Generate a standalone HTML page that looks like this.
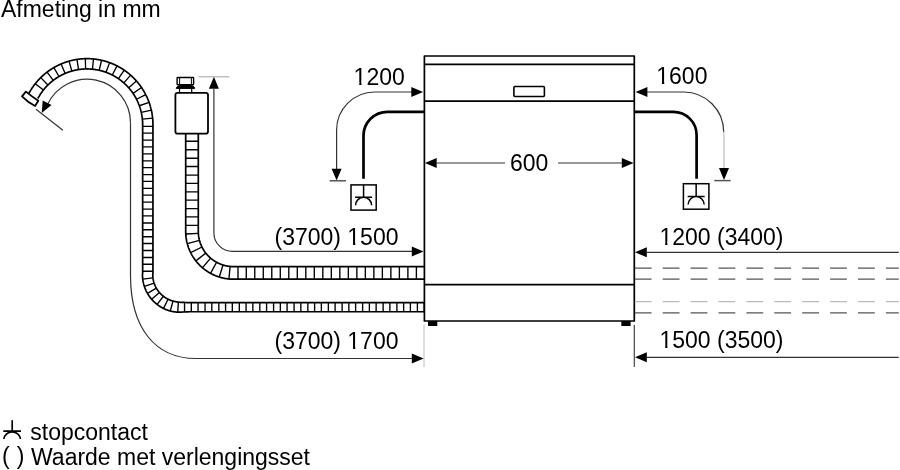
<!DOCTYPE html><html><head><meta charset="utf-8"><style>html,body{margin:0;padding:0;background:#fff;width:900px;height:470px;overflow:hidden}svg{display:block;will-change:transform}text{font-family:"Liberation Sans",sans-serif;font-size:23px;fill:#000}</style></head><body>
<svg width="900" height="470" viewBox="0 0 900 470">
<text transform="translate(1 17.2) scale(1 1.04)" xml:space="preserve">Afmeting in mm</text>
<path d="M424.4,321 V56 H634.3 V321 Z" fill="none" stroke="#000" stroke-width="1.7" stroke-linejoin="round"/>
<path d="M424.4,64.3 H634.3 M424.4,101.1 H634.3 M424.4,284.7 H634.3" fill="none" stroke="#000" stroke-width="1.7"/>
<rect x="428" y="321" width="9.3" height="5" fill="#000"/>
<rect x="621.3" y="321" width="9.3" height="5" fill="#000"/>
<rect x="513.9" y="86.5" width="30.5" height="10" rx="1" fill="none" stroke="#000" stroke-width="1.6"/>
<path d="M437,163 H505 M558,163 H622" stroke="#333" stroke-width="1.2" fill="none"/>
<path d="M424.90,163.00 L436.70,158.00 L436.70,168.00 Z" fill="#000"/>
<path d="M633.60,163.00 L621.80,168.00 L621.80,158.00 Z" fill="#000"/>
<text transform="translate(510 171) scale(1 1.04)" xml:space="preserve">600</text>
<path d="M336.6,172 V130.1 A38.1,38.1 0 0 1 374.7,92 H412" stroke="#333" stroke-width="1.2" fill="none"/>
<path d="M423.10,92.00 L411.30,97.00 L411.30,87.00 Z" fill="#000"/>
<path d="M336.60,180.50 L331.60,168.70 L341.60,168.70 Z" fill="#000"/>
<path d="M329.6,180.8 H346" stroke="#555" stroke-width="1.5"/>
<text transform="translate(353.6 84.7) scale(1 1.04)" xml:space="preserve">1200</text>
<path d="M363.5,178.8 V135.8 A24,24 0 0 1 387.5,111.8 H424.4" stroke="#000" stroke-width="2.7" fill="none"/>
<rect x="351" y="184.9" width="25.20" height="25.20" fill="none" stroke="#000" stroke-width="1.5"/>
<path d="M363.60,184.9 V197.3 M355.10,197.3 H372.10 M355.60,205.3 A8,8 0 0 1 371.60,205.3" stroke="#000" stroke-width="1.5" fill="none"/>
<path d="M647,92 H683.7 A40,40 0 0 1 723.7,132" stroke="#333" stroke-width="1.2" fill="none"/>
<path d="M723.7,131.5 Q724,134 724,138 V172" stroke="#b0b0b0" stroke-width="1" fill="none"/>
<path d="M635.60,92.00 L647.40,87.00 L647.40,97.00 Z" fill="#000"/>
<path d="M724.00,179.90 L719.00,168.10 L729.00,168.10 Z" fill="#000"/>
<path d="M714.3,180.6 H730.6" stroke="#555" stroke-width="1.5"/>
<text transform="translate(656.3 83.7) scale(1 1.04)" xml:space="preserve">1600</text>
<path d="M634.3,111.8 H673.3 A23.3,23.3 0 0 1 696.6,135.1 V178.8" stroke="#000" stroke-width="2.7" fill="none"/>
<rect x="683.4" y="183.7" width="25.50" height="25.50" fill="none" stroke="#000" stroke-width="1.5"/>
<path d="M696.15,183.7 V196.5 M687.65,196.5 H704.65 M688.15,204.6 A8,8 0 0 1 704.15,204.6" stroke="#000" stroke-width="1.5" fill="none"/>
<path d="M647,252.4 H898.8" stroke="#333" stroke-width="1.2" fill="none"/>
<path d="M635.00,252.30 L646.80,247.30 L646.80,257.30 Z" fill="#000"/>
<text transform="translate(659.5 244.5) scale(1 1.04)" xml:space="preserve">1200 (3400)</text>
<path d="M647,357.4 H898.8" stroke="#333" stroke-width="1.2" fill="none"/>
<path d="M635.00,357.30 L646.80,352.30 L646.80,362.30 Z" fill="#000"/>
<text transform="translate(659.5 348.3) scale(1 1.04)" xml:space="preserve">1500 (3500)</text>
<path d="M634.8,268.2 H898.8" stroke="#555" stroke-width="1.3" stroke-dasharray="16.8 11.1" fill="none"/>
<path d="M634.8,279.2 H898.8" stroke="#555" stroke-width="1.3" stroke-dasharray="16.8 11.1" fill="none"/>
<path d="M634.8,301.6 H898.8" stroke="#bbb" stroke-width="1.3" stroke-dasharray="16.8 11.1" fill="none"/>
<path d="M634.8,312.8 H898.8" stroke="#555" stroke-width="1.3" stroke-dasharray="16.8 11.1" fill="none"/>
<path d="M424,324.5 V367" stroke="#c8c8c8" stroke-width="1.2"/>
<path d="M634.3,325 V367" stroke="#444" stroke-width="1.2"/>
<path d="M213.9,89 V232.7 A18.5,18.5 0 0 0 232.4,251.4 H412" stroke="#333" stroke-width="1.2" fill="none"/>
<path d="M423.60,251.40 L411.80,256.40 L411.80,246.40 Z" fill="#000"/>
<path d="M213.90,76.80 L218.90,88.80 L208.90,88.80 Z" fill="#000"/>
<path d="M198.4,76.8 H229.3" stroke="#aaa" stroke-width="1.1"/>
<text transform="translate(274.5 245) scale(1 1.04)" xml:space="preserve">(3700) 1500</text>
<path d="M130.5,122.7 V276 C130.8,328 155,358.5 196,358.5 H412" stroke="#333" stroke-width="1.2" fill="none"/>
<path d="M423.60,358.40 L411.80,363.40 L411.80,353.40 Z" fill="#000"/>
<text transform="translate(274.5 349) scale(1 1.04)" xml:space="preserve">(3700) 1700</text>
<path d="M47.26,105.01 A43.5,43.5 0 0 1 130.5,122.7" stroke="#333" stroke-width="1.2" fill="none"/>
<path d="M41.72,112.93 L42.70,100.43 L51.53,105.12 Z" fill="#000"/>
<path d="M36,109.2 L62.9,130.2" stroke="#333" stroke-width="1.2"/>
<path d="M37.86,98.47 L37.97,98.27 L38.08,98.07 L38.19,97.87 L38.30,97.67 L38.41,97.47 L38.52,97.27 L38.64,97.07 L38.75,96.87 L38.86,96.67 L38.98,96.48 L39.10,96.28 L39.21,96.08 L39.33,95.89 L39.45,95.69 L39.57,95.49 L39.69,95.30 L39.81,95.10 L39.93,94.91 L40.05,94.72 L40.18,94.52 L40.30,94.33 L40.43,94.14 L40.55,93.95 L40.68,93.76 L40.81,93.57 L40.93,93.38 L41.06,93.19 L41.19,93.00 L41.32,92.81 L41.45,92.62 L41.58,92.44 L41.72,92.25 L41.85,92.07 L41.99,91.88 L42.12,91.70 L42.26,91.51 L42.39,91.33 L42.53,91.14 L42.67,90.96 L42.81,90.78 L42.95,90.60 L43.09,90.42 L43.23,90.24 L43.37,90.06 L43.51,89.88 L43.65,89.70 L43.80,89.52 L43.94,89.34 L44.09,89.17 L44.23,88.99 L44.38,88.82 L44.53,88.64 L44.68,88.47 L44.83,88.29 L44.98,88.12 L45.13,87.95 L45.28,87.77 L45.43,87.60 L45.58,87.43 L45.73,87.26 L45.89,87.09 L46.04,86.92 L46.20,86.76 L46.35,86.59 L46.51,86.42 L46.67,86.26 L46.83,86.09 L46.99,85.92 L47.14,85.76 L47.30,85.60 L47.47,85.43 L47.63,85.27 L47.79,85.11 L47.95,84.95 L48.12,84.79 L48.28,84.63 L48.44,84.47 L48.61,84.31 L48.78,84.15 L48.94,84.00 L49.11,83.84 L49.28,83.69 L49.45,83.53 L49.62,83.38 L49.79,83.22 L49.96,83.07 L50.13,82.92 L50.30,82.77 L50.47,82.62 L50.64,82.47 L50.82,82.32 L50.99,82.17 L51.17,82.02 L51.34,81.87 L51.52,81.73 L51.69,81.58 L51.87,81.44 L52.05,81.29 L52.23,81.15 L52.41,81.01 L52.59,80.87 L52.77,80.72 L52.95,80.58 L53.13,80.44 L53.31,80.31 L53.49,80.17 L53.68,80.03 L53.86,79.89 L54.04,79.76 L54.23,79.62 L54.41,79.49 L54.60,79.35 L54.79,79.22 L54.97,79.09 L55.16,78.96 L55.35,78.83 L55.54,78.70 L55.73,78.57 L55.92,78.44 L56.11,78.31 L56.30,78.19 L56.49,78.06 L56.68,77.94 L56.87,77.81 L57.06,77.69 L57.26,77.56 L57.45,77.44 L57.65,77.32 L57.84,77.20 L58.04,77.08 L58.23,76.96 L58.43,76.85 L58.62,76.73 L58.82,76.61 L59.02,76.50 L59.22,76.38 L59.42,76.27 L59.61,76.15 L59.81,76.04 L60.01,75.93 L60.21,75.82 L60.42,75.71 L60.62,75.60 L60.82,75.49 L61.02,75.39 L61.22,75.28 L61.43,75.17 L61.63,75.07 L61.83,74.97 L62.04,74.86 L62.24,74.76 L62.45,74.66 L62.65,74.56 L62.86,74.46 L63.07,74.36 L63.27,74.26 L63.48,74.16 L63.69,74.07 L63.90,73.97 L64.10,73.88 L64.31,73.78 L64.52,73.69 L64.73,73.60 L64.94,73.51 L65.15,73.42 L65.36,73.33 L65.57,73.24 L65.79,73.15 L66.00,73.07 L66.21,72.98 L66.42,72.89 L66.63,72.81 L66.85,72.73 L67.06,72.64 L67.27,72.56 L67.49,72.48 L67.70,72.40 L67.92,72.32 L68.13,72.25 L68.35,72.17 L68.56,72.09 L68.78,72.02 L69.00,71.94 L69.21,71.87 L69.43,71.80 L69.65,71.72 L69.87,71.65 L70.08,71.58 L70.30,71.51 L70.52,71.45 L70.74,71.38 L70.96,71.31 L71.18,71.25 L71.40,71.18 L71.62,71.12 L71.84,71.06 L72.06,70.99 L72.28,70.93 L72.50,70.87 L72.72,70.81 L72.94,70.75 L73.16,70.70 L73.39,70.64 L73.61,70.59 L73.83,70.53 L74.05,70.48 L74.27,70.42 L74.50,70.37 L74.72,70.32 L74.94,70.27 L75.17,70.22 L75.39,70.17 L75.62,70.13 L75.84,70.08 L76.06,70.04 L76.29,69.99 L76.51,69.95 L76.74,69.90 L76.96,69.86 L77.19,69.82 L77.41,69.78 L77.64,69.74 L77.86,69.70 L78.09,69.67 L78.32,69.63 L78.54,69.60 L78.77,69.56 L79.00,69.53 L79.22,69.50 L79.45,69.46 L79.68,69.43 L79.90,69.40 L80.13,69.38 L80.36,69.35 L80.58,69.32 L80.81,69.30 L81.04,69.27 L81.27,69.25 L81.49,69.22 L81.72,69.20 L81.95,69.18 L82.18,69.16 L82.41,69.14 L82.63,69.12 L82.86,69.10 L83.09,69.09 L83.32,69.07 L83.55,69.06 L83.78,69.04 L84.00,69.03 L84.23,69.02 L84.46,69.01 L84.69,69.00 L84.92,68.99 L85.15,68.98 L85.38,68.97 L85.61,68.97 L85.83,68.96 L86.06,68.96 L86.29,68.95 L86.52,68.95 L86.75,68.95 L86.98,68.95 L87.21,68.95 L87.44,68.95 L87.67,68.95 L87.89,68.96 L88.12,68.96 L88.35,68.97 L88.58,68.97 L88.81,68.98 L89.04,68.99 L89.27,69.00 L89.50,69.01 L89.72,69.02 L89.95,69.03 L90.18,69.04 L90.41,69.05 L90.64,69.07 L90.87,69.08 L91.10,69.10 L91.32,69.12 L91.55,69.14 L91.78,69.16 L92.01,69.18 L92.24,69.20 L92.46,69.22 L92.69,69.24 L92.92,69.27 L93.15,69.29 L93.37,69.32 L93.60,69.34 L93.83,69.37 L94.06,69.40 L94.28,69.43 L94.51,69.46 L94.74,69.49 L94.96,69.52 L95.19,69.56 L95.42,69.59 L95.64,69.63 L95.87,69.66 L96.09,69.70 L96.32,69.74 L96.54,69.77 L96.77,69.81 L97.00,69.86 L97.22,69.90 L97.45,69.94 L97.67,69.98 L97.89,70.03 L98.12,70.07 L98.34,70.12 L98.57,70.17 L98.79,70.21 L99.01,70.26 L99.24,70.31 L99.46,70.36 L99.68,70.41 L99.91,70.47 L100.13,70.52 L100.35,70.58 L100.57,70.63 L100.80,70.69 L101.02,70.74 L101.24,70.80 L101.46,70.86 L101.68,70.92 L101.90,70.98 L102.12,71.04 L102.34,71.11 L102.56,71.17 L102.78,71.23 L103.00,71.30 L103.22,71.37 L103.44,71.43 L103.66,71.50 L103.88,71.57 L104.09,71.64 L104.31,71.71 L104.53,71.78 L104.75,71.86 L104.96,71.93 L105.18,72.00 L105.40,72.08 L105.61,72.15 L105.83,72.23 L106.04,72.31 L106.26,72.39 L106.47,72.47 L106.69,72.55 L106.90,72.63 L107.11,72.71 L107.33,72.79 L107.54,72.88 L107.75,72.96 L107.96,73.05 L108.18,73.14 L108.39,73.22 L108.60,73.31 L108.81,73.40 L109.02,73.49 L109.23,73.58 L109.44,73.67 L109.65,73.77 L109.86,73.86 L110.07,73.96 L110.27,74.05 L110.48,74.15 L110.69,74.24 L110.90,74.34 L111.10,74.44 L111.31,74.54 L111.51,74.64 L111.72,74.74 L111.92,74.84 L112.13,74.95 L112.33,75.05 L112.54,75.16 L112.74,75.26 L112.94,75.37 L113.14,75.47 L113.35,75.58 L113.55,75.69 L113.75,75.80 L113.95,75.91 L114.15,76.02 L114.35,76.13 L114.55,76.25 L114.75,76.36 L114.94,76.48 L115.14,76.59 L115.34,76.71 L115.54,76.82 L115.73,76.94 L115.93,77.06 L116.12,77.18 L116.32,77.30 L116.51,77.42 L116.71,77.54 L116.90,77.66 L117.09,77.79 L117.29,77.91 L117.48,78.04 L117.67,78.16 L117.86,78.29 L118.05,78.42 L118.24,78.55 L118.43,78.67 L118.62,78.80 L118.80,78.93 L118.99,79.07 L119.18,79.20 L119.37,79.33 L119.55,79.46 L119.74,79.60 L119.92,79.73 L120.11,79.87 L120.29,80.01 L120.47,80.14 L120.66,80.28 L120.84,80.42 L121.02,80.56 L121.20,80.70 L121.38,80.84 L121.56,80.98 L121.74,81.12 L121.92,81.27 L122.10,81.41 L122.27,81.56 L122.45,81.70 L122.63,81.85 L122.80,81.99 L122.98,82.14 L123.15,82.29 L123.32,82.44 L123.50,82.59 L123.67,82.74 L123.84,82.89 L124.01,83.04 L124.18,83.20 L124.35,83.35 L124.52,83.50 L124.69,83.66 L124.86,83.81 L125.03,83.97 L125.19,84.13 L125.36,84.28 L125.53,84.44 L125.69,84.60 L125.85,84.76 L126.02,84.92 L126.18,85.08 L126.34,85.24 L126.50,85.40 L126.67,85.57 L126.83,85.73 L126.99,85.89 L127.14,86.06 L127.30,86.22 L127.46,86.39 L127.62,86.56 L127.77,86.73 L127.93,86.89 L128.08,87.06 L128.24,87.23 L128.39,87.40 L128.54,87.57 L128.69,87.74 L128.85,87.91 L129.00,88.09 L129.15,88.26 L129.30,88.43 L129.44,88.61 L129.59,88.78 L129.74,88.96 L129.88,89.13 L130.03,89.31 L130.18,89.49 L130.32,89.67 L130.46,89.84 L130.61,90.02 L130.75,90.20 L130.89,90.38 L131.03,90.56 L131.17,90.75 L131.31,90.93 L131.44,91.11 L131.58,91.29 L131.72,91.48 L131.85,91.66 L131.99,91.85 L132.12,92.03 L132.26,92.22 L132.39,92.40 L132.52,92.59 L132.65,92.78 L132.78,92.97 L132.91,93.15 L133.04,93.34 L133.17,93.53 L133.30,93.72 L133.43,93.91 L133.55,94.11 L133.68,94.30 L133.80,94.49 L133.92,94.68 L134.05,94.88 L134.17,95.07 L134.29,95.26 L134.41,95.46 L134.53,95.65 L134.65,95.85 L134.77,96.05 L134.88,96.24 L135.00,96.44 L135.11,96.64 L135.23,96.84 L135.34,97.03 L135.46,97.23 L135.57,97.43 L135.68,97.63 L135.79,97.83 L135.90,98.03 L136.01,98.23 L136.12,98.44 L136.22,98.64 L136.33,98.84 L136.44,99.04 L136.54,99.25 L136.64,99.45 L136.75,99.66 L136.85,99.86 L136.95,100.07 L137.05,100.27 L137.15,100.48 L137.25,100.68 L137.35,100.89 L137.44,101.10 L137.54,101.31 L137.64,101.51 L137.73,101.72 L137.82,101.93 L137.92,102.14 L138.01,102.35 L138.10,102.56 L138.19,102.77 L138.28,102.98 L138.37,103.19 L138.46,103.40 L138.54,103.62 L138.63,103.83 L138.71,104.04 L138.80,104.25 L138.88,104.47 L138.96,104.68 L139.04,104.89 L139.13,105.11 L139.20,105.32 L139.28,105.54 L139.36,105.75 L139.44,105.97 L139.51,106.18 L139.59,106.40 L139.66,106.62 L139.74,106.83 L139.81,107.05 L139.88,107.27 L139.95,107.49 L140.02,107.70 L140.09,107.92 L140.16,108.14 L140.23,108.36 L140.29,108.58 L140.36,108.80 L140.42,109.02 L140.49,109.24 L140.55,109.46 L140.61,109.68 L140.67,109.90 L140.73,110.12 L140.79,110.34 L140.85,110.56 L140.91,110.78 L140.96,111.01 L141.02,111.23 L141.07,111.45 L141.13,111.67 L141.18,111.90 L141.23,112.12 L141.28,112.34 L141.33,112.56 L141.38,112.79 L141.43,113.01 L141.48,113.24 L141.52,113.46 L141.57,113.68 L141.61,113.91 L141.66,114.13 L141.70,114.36 L141.74,114.58 L141.78,114.81 L141.82,115.03 L141.86,115.26 L141.90,115.49 L141.94,115.71 L141.97,115.94 L142.01,116.16 L142.04,116.39 L142.07,116.62 L142.11,116.84 L142.14,117.07 L142.17,117.30 L142.20,117.52 L142.23,117.75 L142.25,117.98 L142.28,118.21 L142.31,118.43 L142.33,118.66 L142.36,118.89 L142.38,119.12 L142.40,119.34 L142.42,119.57 L142.44,119.80 L142.46,120.03 L142.48,120.26 L142.50,120.48 L142.51,120.71 L142.53,120.94 L142.54,121.17 L142.56,121.40 L142.57,121.63 L142.58,121.85 L142.59,122.08 L142.60,122.31 L142.61,122.54 L142.62,122.77 L142.63,123.00 L142.63,123.23 L142.64,123.46 L142.64,123.68 L142.65,123.91 L142.65,124.14 L142.65,124.37 L142.65,124.60 L142.65,124.85 L142.65,125.10 L142.65,125.35 L142.65,125.60 L142.65,125.85 L142.65,126.10 L142.65,126.35 L142.65,126.60 L142.65,126.85 L142.65,127.10 L142.65,127.35 L142.65,127.60 L142.65,127.85 L142.65,128.10 L142.65,128.35 L142.65,128.60 L142.65,128.85 L142.65,129.10 L142.65,129.35 L142.65,129.61 L142.65,129.86 L142.65,130.11 L142.65,130.36 L142.65,130.61 L142.65,130.86 L142.65,131.11 L142.65,131.36 L142.65,131.61 L142.65,131.86 L142.65,132.11 L142.65,132.36 L142.65,132.61 L142.65,132.86 L142.65,133.11 L142.65,133.36 L142.65,133.61 L142.65,133.86 L142.65,134.11 L142.65,134.36 L142.65,134.61 L142.65,134.86 L142.65,135.11 L142.65,135.36 L142.65,135.61 L142.65,135.86 L142.65,136.11 L142.65,136.36 L142.65,136.61 L142.65,136.86 L142.65,137.11 L142.65,137.36 L142.65,137.61 L142.65,137.86 L142.65,138.11 L142.65,138.36 L142.65,138.61 L142.65,138.86 L142.65,139.11 L142.65,139.36 L142.65,139.62 L142.65,139.87 L142.65,140.12 L142.65,140.37 L142.65,140.62 L142.65,140.87 L142.65,141.12 L142.65,141.37 L142.65,141.62 L142.65,141.87 L142.65,142.12 L142.65,142.37 L142.65,142.62 L142.65,142.87 L142.65,143.12 L142.65,143.37 L142.65,143.62 L142.65,143.87 L142.65,144.12 L142.65,144.37 L142.65,144.62 L142.65,144.87 L142.65,145.12 L142.65,145.37 L142.65,145.62 L142.65,145.87 L142.65,146.12 L142.65,146.37 L142.65,146.62 L142.65,146.87 L142.65,147.12 L142.65,147.37 L142.65,147.62 L142.65,147.87 L142.65,148.12 L142.65,148.37 L142.65,148.62 L142.65,148.87 L142.65,149.12 L142.65,149.37 L142.65,149.63 L142.65,149.88 L142.65,150.13 L142.65,150.38 L142.65,150.63 L142.65,150.88 L142.65,151.13 L142.65,151.38 L142.65,151.63 L142.65,151.88 L142.65,152.13 L142.65,152.38 L142.65,152.63 L142.65,152.88 L142.65,153.13 L142.65,153.38 L142.65,153.63 L142.65,153.88 L142.65,154.13 L142.65,154.38 L142.65,154.63 L142.65,154.88 L142.65,155.13 L142.65,155.38 L142.65,155.63 L142.65,155.88 L142.65,156.13 L142.65,156.38 L142.65,156.63 L142.65,156.88 L142.65,157.13 L142.65,157.38 L142.65,157.63 L142.65,157.88 L142.65,158.13 L142.65,158.38 L142.65,158.63 L142.65,158.88 L142.65,159.13 L142.65,159.38 L142.65,159.64 L142.65,159.89 L142.65,160.14 L142.65,160.39 L142.65,160.64 L142.65,160.89 L142.65,161.14 L142.65,161.39 L142.65,161.64 L142.65,161.89 L142.65,162.14 L142.65,162.39 L142.65,162.64 L142.65,162.89 L142.65,163.14 L142.65,163.39 L142.65,163.64 L142.65,163.89 L142.65,164.14 L142.65,164.39 L142.65,164.64 L142.65,164.89 L142.65,165.14 L142.65,165.39 L142.65,165.64 L142.65,165.89 L142.65,166.14 L142.65,166.39 L142.65,166.64 L142.65,166.89 L142.65,167.14 L142.65,167.39 L142.65,167.64 L142.65,167.89 L142.65,168.14 L142.65,168.39 L142.65,168.64 L142.65,168.89 L142.65,169.14 L142.65,169.39 L142.65,169.65 L142.65,169.90 L142.65,170.15 L142.65,170.40 L142.65,170.65 L142.65,170.90 L142.65,171.15 L142.65,171.40 L142.65,171.65 L142.65,171.90 L142.65,172.15 L142.65,172.40 L142.65,172.65 L142.65,172.90 L142.65,173.15 L142.65,173.40 L142.65,173.65 L142.65,173.90 L142.65,174.15 L142.65,174.40 L142.65,174.65 L142.65,174.90 L142.65,175.15 L142.65,175.40 L142.65,175.65 L142.65,175.90 L142.65,176.15 L142.65,176.40 L142.65,176.65 L142.65,176.90 L142.65,177.15 L142.65,177.40 L142.65,177.65 L142.65,177.90 L142.65,178.15 L142.65,178.40 L142.65,178.65 L142.65,178.90 L142.65,179.15 L142.65,179.41 L142.65,179.66 L142.65,179.91 L142.65,180.16 L142.65,180.41 L142.65,180.66 L142.65,180.91 L142.65,181.16 L142.65,181.41 L142.65,181.66 L142.65,181.91 L142.65,182.16 L142.65,182.41 L142.65,182.66 L142.65,182.91 L142.65,183.16 L142.65,183.41 L142.65,183.66 L142.65,183.91 L142.65,184.16 L142.65,184.41 L142.65,184.66 L142.65,184.91 L142.65,185.16 L142.65,185.41 L142.65,185.66 L142.65,185.91 L142.65,186.16 L142.65,186.41 L142.65,186.66 L142.65,186.91 L142.65,187.16 L142.65,187.41 L142.65,187.66 L142.65,187.91 L142.65,188.16 L142.65,188.41 L142.65,188.66 L142.65,188.91 L142.65,189.16 L142.65,189.42 L142.65,189.67 L142.65,189.92 L142.65,190.17 L142.65,190.42 L142.65,190.67 L142.65,190.92 L142.65,191.17 L142.65,191.42 L142.65,191.67 L142.65,191.92 L142.65,192.17 L142.65,192.42 L142.65,192.67 L142.65,192.92 L142.65,193.17 L142.65,193.42 L142.65,193.67 L142.65,193.92 L142.65,194.17 L142.65,194.42 L142.65,194.67 L142.65,194.92 L142.65,195.17 L142.65,195.42 L142.65,195.67 L142.65,195.92 L142.65,196.17 L142.65,196.42 L142.65,196.67 L142.65,196.92 L142.65,197.17 L142.65,197.42 L142.65,197.67 L142.65,197.92 L142.65,198.17 L142.65,198.42 L142.65,198.67 L142.65,198.92 L142.65,199.17 L142.65,199.43 L142.65,199.68 L142.65,199.93 L142.65,200.18 L142.65,200.43 L142.65,200.68 L142.65,200.93 L142.65,201.18 L142.65,201.43 L142.65,201.68 L142.65,201.93 L142.65,202.18 L142.65,202.43 L142.65,202.68 L142.65,202.93 L142.65,203.18 L142.65,203.43 L142.65,203.68 L142.65,203.93 L142.65,204.18 L142.65,204.43 L142.65,204.68 L142.65,204.93 L142.65,205.18 L142.65,205.43 L142.65,205.68 L142.65,205.93 L142.65,206.18 L142.65,206.43 L142.65,206.68 L142.65,206.93 L142.65,207.18 L142.65,207.43 L142.65,207.68 L142.65,207.93 L142.65,208.18 L142.65,208.43 L142.65,208.68 L142.65,208.93 L142.65,209.18 L142.65,209.44 L142.65,209.69 L142.65,209.94 L142.65,210.19 L142.65,210.44 L142.65,210.69 L142.65,210.94 L142.65,211.19 L142.65,211.44 L142.65,211.69 L142.65,211.94 L142.65,212.19 L142.65,212.44 L142.65,212.69 L142.65,212.94 L142.65,213.19 L142.65,213.44 L142.65,213.69 L142.65,213.94 L142.65,214.19 L142.65,214.44 L142.65,214.69 L142.65,214.94 L142.65,215.19 L142.65,215.44 L142.65,215.69 L142.65,215.94 L142.65,216.19 L142.65,216.44 L142.65,216.69 L142.65,216.94 L142.65,217.19 L142.65,217.44 L142.65,217.69 L142.65,217.94 L142.65,218.19 L142.65,218.44 L142.65,218.69 L142.65,218.94 L142.65,219.19 L142.65,219.45 L142.65,219.70 L142.65,219.95 L142.65,220.20 L142.65,220.45 L142.65,220.70 L142.65,220.95 L142.65,221.20 L142.65,221.45 L142.65,221.70 L142.65,221.95 L142.65,222.20 L142.65,222.45 L142.65,222.70 L142.65,222.95 L142.65,223.20 L142.65,223.45 L142.65,223.70 L142.65,223.95 L142.65,224.20 L142.65,224.45 L142.65,224.70 L142.65,224.95 L142.65,225.20 L142.65,225.45 L142.65,225.70 L142.65,225.95 L142.65,226.20 L142.65,226.45 L142.65,226.70 L142.65,226.95 L142.65,227.20 L142.65,227.45 L142.65,227.70 L142.65,227.95 L142.65,228.20 L142.65,228.45 L142.65,228.70 L142.65,228.95 L142.65,229.21 L142.65,229.46 L142.65,229.71 L142.65,229.96 L142.65,230.21 L142.65,230.46 L142.65,230.71 L142.65,230.96 L142.65,231.21 L142.65,231.46 L142.65,231.71 L142.65,231.96 L142.65,232.21 L142.65,232.46 L142.65,232.71 L142.65,232.96 L142.65,233.21 L142.65,233.46 L142.65,233.71 L142.65,233.96 L142.65,234.21 L142.65,234.46 L142.65,234.71 L142.65,234.96 L142.65,235.21 L142.65,235.46 L142.65,235.71 L142.65,235.96 L142.65,236.21 L142.65,236.46 L142.65,236.71 L142.65,236.96 L142.65,237.21 L142.65,237.46 L142.65,237.71 L142.65,237.96 L142.65,238.21 L142.65,238.46 L142.65,238.71 L142.65,238.96 L142.65,239.22 L142.65,239.47 L142.65,239.72 L142.65,239.97 L142.65,240.22 L142.65,240.47 L142.65,240.72 L142.65,240.97 L142.65,241.22 L142.65,241.47 L142.65,241.72 L142.65,241.97 L142.65,242.22 L142.65,242.47 L142.65,242.72 L142.65,242.97 L142.65,243.22 L142.65,243.47 L142.65,243.72 L142.65,243.97 L142.65,244.22 L142.65,244.47 L142.65,244.72 L142.65,244.97 L142.65,245.22 L142.65,245.47 L142.65,245.72 L142.65,245.97 L142.65,246.22 L142.65,246.47 L142.65,246.72 L142.65,246.97 L142.65,247.22 L142.65,247.47 L142.65,247.72 L142.65,247.97 L142.65,248.22 L142.65,248.47 L142.65,248.72 L142.65,248.97 L142.65,249.23 L142.65,249.48 L142.65,249.73 L142.65,249.98 L142.65,250.23 L142.65,250.48 L142.65,250.73 L142.65,250.98 L142.65,251.23 L142.65,251.48 L142.65,251.73 L142.65,251.98 L142.65,252.23 L142.65,252.48 L142.65,252.73 L142.65,252.98 L142.65,253.23 L142.65,253.48 L142.65,253.73 L142.65,253.98 L142.65,254.23 L142.65,254.48 L142.65,254.73 L142.65,254.98 L142.65,255.23 L142.65,255.48 L142.65,255.73 L142.65,255.98 L142.65,256.23 L142.65,256.48 L142.65,256.73 L142.65,256.98 L142.65,257.23 L142.65,257.48 L142.65,257.73 L142.65,257.98 L142.65,258.23 L142.65,258.48 L142.65,258.73 L142.65,258.98 L142.65,259.24 L142.65,259.49 L142.65,259.74 L142.65,259.99 L142.65,260.24 L142.65,260.49 L142.65,260.74 L142.65,260.99 L142.65,261.24 L142.65,261.49 L142.65,261.74 L142.65,261.99 L142.65,262.24 L142.65,262.49 L142.65,262.74 L142.65,262.99 L142.65,263.24 L142.65,263.49 L142.65,263.74 L142.65,263.99 L142.65,264.24 L142.65,264.49 L142.65,264.74 L142.65,264.99 L142.65,265.24 L142.65,265.49 L142.65,265.74 L142.65,265.99 L142.65,266.24 L142.65,266.49 L142.65,266.74 L142.65,266.99 L142.65,267.24 L142.65,267.49 L142.65,267.74 L142.65,267.99 L142.65,268.24 L142.65,268.49 L142.65,268.74 L142.65,268.99 L142.65,269.25 L142.65,269.50 L142.65,269.75 L142.65,270.00 L142.65,270.25 L142.65,270.50 L142.65,270.75 L142.65,271.00 L142.65,271.25 L142.65,271.50 L142.65,271.75 L142.65,272.00 L142.65,272.25 L142.65,272.50 L142.65,272.75 L142.65,273.00 L142.65,273.25 L142.65,273.50 L142.65,273.75 L142.45,274.50 L142.45,274.79 L142.45,275.08 L142.46,275.37 L142.47,275.66 L142.48,275.95 L142.49,276.24 L142.50,276.53 L142.52,276.82 L142.54,277.11 L142.56,277.40 L142.58,277.69 L142.61,277.98 L142.64,278.26 L142.67,278.55 L142.70,278.84 L142.73,279.13 L142.77,279.42 L142.81,279.70 L142.85,279.99 L142.89,280.28 L142.94,280.56 L142.99,280.85 L143.04,281.14 L143.09,281.42 L143.14,281.71 L143.20,281.99 L143.26,282.27 L143.32,282.56 L143.38,282.84 L143.45,283.12 L143.51,283.41 L143.58,283.69 L143.65,283.97 L143.73,284.25 L143.80,284.53 L143.88,284.81 L143.96,285.09 L144.04,285.37 L144.13,285.64 L144.21,285.92 L144.30,286.20 L144.39,286.47 L144.49,286.75 L144.58,287.02 L144.68,287.29 L144.78,287.57 L144.88,287.84 L144.98,288.11 L145.09,288.38 L145.19,288.65 L145.30,288.92 L145.41,289.19 L145.53,289.45 L145.64,289.72 L145.76,289.98 L145.88,290.25 L146.00,290.51 L146.13,290.77 L146.25,291.03 L146.38,291.29 L146.51,291.55 L146.64,291.81 L146.78,292.07 L146.91,292.33 L147.05,292.58 L147.19,292.84 L147.33,293.09 L147.47,293.34 L147.62,293.59 L147.77,293.84 L147.91,294.09 L148.07,294.34 L148.22,294.58 L148.37,294.83 L148.53,295.07 L148.69,295.32 L148.85,295.56 L149.01,295.80 L149.18,296.04 L149.34,296.28 L149.51,296.51 L149.68,296.75 L149.85,296.98 L150.02,297.21 L150.20,297.45 L150.37,297.68 L150.55,297.90 L150.73,298.13 L150.92,298.36 L151.10,298.58 L151.28,298.80 L151.47,299.03 L151.66,299.25 L151.85,299.47 L152.04,299.68 L152.24,299.90 L152.43,300.11 L152.63,300.33 L152.83,300.54 L153.03,300.75 L153.23,300.95 L153.43,301.16 L153.64,301.37 L153.85,301.57 L154.05,301.77 L154.26,301.97 L154.47,302.17 L154.69,302.37 L154.90,302.56 L155.12,302.76 L155.33,302.95 L155.55,303.14 L155.77,303.33 L156.00,303.52 L156.22,303.70 L156.44,303.88 L156.67,304.07 L156.90,304.25 L157.12,304.43 L157.35,304.60 L157.59,304.78 L157.82,304.95 L158.05,305.12 L158.29,305.29 L158.52,305.46 L158.76,305.62 L159.00,305.79 L159.24,305.95 L159.48,306.11 L159.73,306.27 L159.97,306.43 L160.22,306.58 L160.46,306.73 L160.71,306.89 L160.96,307.03 L161.21,307.18 L161.46,307.33 L161.71,307.47 L161.96,307.61 L162.22,307.75 L162.47,307.89 L162.73,308.02 L162.99,308.16 L163.25,308.29 L163.51,308.42 L163.77,308.55 L164.03,308.67 L164.29,308.80 L164.55,308.92 L164.82,309.04 L165.08,309.16 L165.35,309.27 L165.61,309.39 L165.88,309.50 L166.15,309.61 L166.42,309.71 L166.69,309.82 L166.96,309.92 L167.23,310.02 L167.51,310.12 L167.78,310.22 L168.05,310.31 L168.33,310.41 L168.60,310.50 L168.88,310.59 L169.16,310.67 L169.43,310.76 L169.71,310.84 L169.99,310.92 L170.27,311.00 L170.55,311.07 L170.83,311.15 L171.11,311.22 L171.39,311.29 L171.68,311.35 L171.96,311.42 L172.24,311.48 L172.53,311.54 L172.81,311.60 L173.09,311.66 L173.38,311.71 L173.66,311.76 L173.95,311.80 L174.24,311.84 L174.53,311.87 L174.82,311.90 L175.10,311.94 L175.39,311.96 L175.68,311.99 L175.97,312.02 L176.26,312.04 L176.55,312.06 L176.84,312.07 L177.12,312.09 L177.41,312.10 L177.70,312.11 L177.99,312.12 L178.28,312.13 L178.57,312.13 L178.86,312.14 L179.15,312.14 L179.43,312.13 L179.72,312.13 L180.01,312.12 L180.30,312.11 L180.55,312.10 L180.80,312.09 L181.05,312.08 L181.30,312.07 L181.55,312.06 L181.80,312.05 L182.05,312.04 L182.30,312.03 L182.55,312.02 L182.80,312.01 L183.05,312.00 L183.30,311.99 L183.55,311.98 L183.80,311.97 L184.05,311.96 L184.30,311.95 L184.55,311.94 L184.80,311.93 L185.05,311.92 L185.30,311.91 L185.55,311.90 L185.80,311.89 L186.05,311.88 L186.30,311.87 L186.55,311.86 L186.80,311.85 L187.05,311.84 L187.30,311.83 L187.55,311.82 L187.80,311.81 L188.05,311.80 L188.30,311.79 L188.55,311.78 L188.80,311.77 L189.05,311.76 L189.30,311.75 L189.55,311.75 L189.80,311.75 L190.05,311.75 L190.30,311.75 L190.55,311.75 L190.80,311.75 L191.05,311.75 L191.30,311.75 L191.55,311.75 L191.80,311.75 L192.05,311.75 L192.30,311.75 L192.56,311.75 L192.81,311.75 L193.06,311.75 L193.31,311.75 L193.56,311.75 L193.81,311.75 L194.06,311.75 L194.31,311.75 L194.56,311.75 L194.81,311.75 L195.06,311.75 L195.31,311.75 L195.56,311.75 L195.81,311.75 L196.06,311.75 L196.31,311.75 L196.56,311.75 L196.81,311.75 L197.06,311.75 L197.31,311.75 L197.56,311.75 L197.81,311.75 L198.06,311.75 L198.31,311.75 L198.56,311.75 L198.81,311.75 L199.06,311.75 L199.31,311.75 L199.56,311.75 L199.81,311.75 L200.06,311.75 L200.31,311.75 L200.56,311.75 L200.81,311.75 L201.06,311.75 L201.31,311.75 L201.56,311.75 L201.81,311.75 L202.06,311.75 L202.31,311.75 L202.56,311.75 L202.81,311.75 L203.06,311.75 L203.31,311.75 L203.56,311.75 L203.81,311.75 L204.06,311.75 L204.31,311.75 L204.56,311.75 L204.81,311.75 L205.06,311.75 L205.31,311.75 L205.56,311.75 L205.81,311.75 L206.06,311.75 L206.31,311.75 L206.56,311.75 L206.81,311.75 L207.06,311.75 L207.31,311.75 L207.56,311.75 L207.81,311.75 L208.06,311.75 L208.31,311.75 L208.56,311.75 L208.81,311.75 L209.06,311.75 L209.31,311.75 L209.56,311.75 L209.81,311.75 L210.06,311.75 L210.31,311.75 L210.56,311.75 L210.81,311.75 L211.06,311.75 L211.31,311.75 L211.56,311.75 L211.81,311.75 L212.06,311.75 L212.31,311.75 L212.56,311.75 L212.81,311.75 L213.06,311.75 L213.31,311.75 L213.56,311.75 L213.81,311.75 L214.06,311.75 L214.31,311.75 L214.56,311.75 L214.81,311.75 L215.06,311.75 L215.31,311.75 L215.56,311.75 L215.81,311.75 L216.06,311.75 L216.31,311.75 L216.56,311.75 L216.81,311.75 L217.07,311.75 L217.32,311.75 L217.57,311.75 L217.82,311.75 L218.07,311.75 L218.32,311.75 L218.57,311.75 L218.82,311.75 L219.07,311.75 L219.32,311.75 L219.57,311.75 L219.82,311.75 L220.07,311.75 L220.32,311.75 L220.57,311.75 L220.82,311.75 L221.07,311.75 L221.32,311.75 L221.57,311.75 L221.82,311.75 L222.07,311.75 L222.32,311.75 L222.57,311.75 L222.82,311.75 L223.07,311.75 L223.32,311.75 L223.57,311.75 L223.82,311.75 L224.07,311.75 L224.32,311.75 L224.57,311.75 L224.82,311.75 L225.07,311.75 L225.32,311.75 L225.57,311.75 L225.82,311.75 L226.07,311.75 L226.32,311.75 L226.57,311.75 L226.82,311.75 L227.07,311.75 L227.32,311.75 L227.57,311.75 L227.82,311.75 L228.07,311.75 L228.32,311.75 L228.57,311.75 L228.82,311.75 L229.07,311.75 L229.32,311.75 L229.57,311.75 L229.82,311.75 L230.07,311.75 L230.32,311.75 L230.57,311.75 L230.82,311.75 L231.07,311.75 L231.32,311.75 L231.57,311.75 L231.82,311.75 L232.07,311.75 L232.32,311.75 L232.57,311.75 L232.82,311.75 L233.07,311.75 L233.32,311.75 L233.57,311.75 L233.82,311.75 L234.07,311.75 L234.32,311.75 L234.57,311.75 L234.82,311.75 L235.07,311.75 L235.32,311.75 L235.57,311.75 L235.82,311.75 L236.07,311.75 L236.32,311.75 L236.57,311.75 L236.82,311.75 L237.07,311.75 L237.32,311.75 L237.57,311.75 L237.82,311.75 L238.07,311.75 L238.32,311.75 L238.57,311.75 L238.82,311.75 L239.07,311.75 L239.32,311.75 L239.57,311.75 L239.82,311.75 L240.07,311.75 L240.32,311.75 L240.57,311.75 L240.82,311.75 L241.07,311.75 L241.32,311.75 L241.58,311.75 L241.83,311.75 L242.08,311.75 L242.33,311.75 L242.58,311.75 L242.83,311.75 L243.08,311.75 L243.33,311.75 L243.58,311.75 L243.83,311.75 L244.08,311.75 L244.33,311.75 L244.58,311.75 L244.83,311.75 L245.08,311.75 L245.33,311.75 L245.58,311.75 L245.83,311.75 L246.08,311.75 L246.33,311.75 L246.58,311.75 L246.83,311.75 L247.08,311.75 L247.33,311.75 L247.58,311.75 L247.83,311.75 L248.08,311.75 L248.33,311.75 L248.58,311.75 L248.83,311.75 L249.08,311.75 L249.33,311.75 L249.58,311.75 L249.83,311.75 L250.08,311.75 L250.33,311.75 L250.58,311.75 L250.83,311.75 L251.08,311.75 L251.33,311.75 L251.58,311.75 L251.83,311.75 L252.08,311.75 L252.33,311.75 L252.58,311.75 L252.83,311.75 L253.08,311.75 L253.33,311.75 L253.58,311.75 L253.83,311.75 L254.08,311.75 L254.33,311.75 L254.58,311.75 L254.83,311.75 L255.08,311.75 L255.33,311.75 L255.58,311.75 L255.83,311.75 L256.08,311.75 L256.33,311.75 L256.58,311.75 L256.83,311.75 L257.08,311.75 L257.33,311.75 L257.58,311.75 L257.83,311.75 L258.08,311.75 L258.33,311.75 L258.58,311.75 L258.83,311.75 L259.08,311.75 L259.33,311.75 L259.58,311.75 L259.83,311.75 L260.08,311.75 L260.33,311.75 L260.58,311.75 L260.83,311.75 L261.08,311.75 L261.33,311.75 L261.58,311.75 L261.83,311.75 L262.08,311.75 L262.33,311.75 L262.58,311.75 L262.83,311.75 L263.08,311.75 L263.33,311.75 L263.58,311.75 L263.83,311.75 L264.08,311.75 L264.33,311.75 L264.58,311.75 L264.83,311.75 L265.08,311.75 L265.33,311.75 L265.58,311.75 L265.84,311.75 L266.09,311.75 L266.34,311.75 L266.59,311.75 L266.84,311.75 L267.09,311.75 L267.34,311.75 L267.59,311.75 L267.84,311.75 L268.09,311.75 L268.34,311.75 L268.59,311.75 L268.84,311.75 L269.09,311.75 L269.34,311.75 L269.59,311.75 L269.84,311.75 L270.09,311.75 L270.34,311.75 L270.59,311.75 L270.84,311.75 L271.09,311.75 L271.34,311.75 L271.59,311.75 L271.84,311.75 L272.09,311.75 L272.34,311.75 L272.59,311.75 L272.84,311.75 L273.09,311.75 L273.34,311.75 L273.59,311.75 L273.84,311.75 L274.09,311.75 L274.34,311.75 L274.59,311.75 L274.84,311.75 L275.09,311.75 L275.34,311.75 L275.59,311.75 L275.84,311.75 L276.09,311.75 L276.34,311.75 L276.59,311.75 L276.84,311.75 L277.09,311.75 L277.34,311.75 L277.59,311.75 L277.84,311.75 L278.09,311.75 L278.34,311.75 L278.59,311.75 L278.84,311.75 L279.09,311.75 L279.34,311.75 L279.59,311.75 L279.84,311.75 L280.09,311.75 L280.34,311.75 L280.59,311.75 L280.84,311.75 L281.09,311.75 L281.34,311.75 L281.59,311.75 L281.84,311.75 L282.09,311.75 L282.34,311.75 L282.59,311.75 L282.84,311.75 L283.09,311.75 L283.34,311.75 L283.59,311.75 L283.84,311.75 L284.09,311.75 L284.34,311.75 L284.59,311.75 L284.84,311.75 L285.09,311.75 L285.34,311.75 L285.59,311.75 L285.84,311.75 L286.09,311.75 L286.34,311.75 L286.59,311.75 L286.84,311.75 L287.09,311.75 L287.34,311.75 L287.59,311.75 L287.84,311.75 L288.09,311.75 L288.34,311.75 L288.59,311.75 L288.84,311.75 L289.09,311.75 L289.34,311.75 L289.59,311.75 L289.84,311.75 L290.09,311.75 L290.35,311.75 L290.60,311.75 L290.85,311.75 L291.10,311.75 L291.35,311.75 L291.60,311.75 L291.85,311.75 L292.10,311.75 L292.35,311.75 L292.60,311.75 L292.85,311.75 L293.10,311.75 L293.35,311.75 L293.60,311.75 L293.85,311.75 L294.10,311.75 L294.35,311.75 L294.60,311.75 L294.85,311.75 L295.10,311.75 L295.35,311.75 L295.60,311.75 L295.85,311.75 L296.10,311.75 L296.35,311.75 L296.60,311.75 L296.85,311.75 L297.10,311.75 L297.35,311.75 L297.60,311.75 L297.85,311.75 L298.10,311.75 L298.35,311.75 L298.60,311.75 L298.85,311.75 L299.10,311.75 L299.35,311.75 L299.60,311.75 L299.85,311.75 L300.10,311.75 L300.35,311.75 L300.60,311.75 L300.85,311.75 L301.10,311.75 L301.35,311.75 L301.60,311.75 L301.85,311.75 L302.10,311.75 L302.35,311.75 L302.60,311.75 L302.85,311.75 L303.10,311.75 L303.35,311.75 L303.60,311.75 L303.85,311.75 L304.10,311.75 L304.35,311.75 L304.60,311.75 L304.85,311.75 L305.10,311.75 L305.35,311.75 L305.60,311.75 L305.85,311.75 L306.10,311.75 L306.35,311.75 L306.60,311.75 L306.85,311.75 L307.10,311.75 L307.35,311.75 L307.60,311.75 L307.85,311.75 L308.10,311.75 L308.35,311.75 L308.60,311.75 L308.85,311.75 L309.10,311.75 L309.35,311.75 L309.60,311.75 L309.85,311.75 L310.10,311.75 L310.35,311.75 L310.60,311.75 L310.85,311.75 L311.10,311.75 L311.35,311.75 L311.60,311.75 L311.85,311.75 L312.10,311.75 L312.35,311.75 L312.60,311.75 L312.85,311.75 L313.10,311.75 L313.35,311.75 L313.60,311.75 L313.85,311.75 L314.10,311.75 L314.35,311.75 L314.61,311.75 L314.86,311.75 L315.11,311.75 L315.36,311.75 L315.61,311.75 L315.86,311.75 L316.11,311.75 L316.36,311.75 L316.61,311.75 L316.86,311.75 L317.11,311.75 L317.36,311.75 L317.61,311.75 L317.86,311.75 L318.11,311.75 L318.36,311.75 L318.61,311.75 L318.86,311.75 L319.11,311.75 L319.36,311.75 L319.61,311.75 L319.86,311.75 L320.11,311.75 L320.36,311.75 L320.61,311.75 L320.86,311.75 L321.11,311.75 L321.36,311.75 L321.61,311.75 L321.86,311.75 L322.11,311.75 L322.36,311.75 L322.61,311.75 L322.86,311.75 L323.11,311.75 L323.36,311.75 L323.61,311.75 L323.86,311.75 L324.11,311.75 L324.36,311.75 L324.61,311.75 L324.86,311.75 L325.11,311.75 L325.36,311.75 L325.61,311.75 L325.86,311.75 L326.11,311.75 L326.36,311.75 L326.61,311.75 L326.86,311.75 L327.11,311.75 L327.36,311.75 L327.61,311.75 L327.86,311.75 L328.11,311.75 L328.36,311.75 L328.61,311.75 L328.86,311.75 L329.11,311.75 L329.36,311.75 L329.61,311.75 L329.86,311.75 L330.11,311.75 L330.36,311.75 L330.61,311.75 L330.86,311.75 L331.11,311.75 L331.36,311.75 L331.61,311.75 L331.86,311.75 L332.11,311.75 L332.36,311.75 L332.61,311.75 L332.86,311.75 L333.11,311.75 L333.36,311.75 L333.61,311.75 L333.86,311.75 L334.11,311.75 L334.36,311.75 L334.61,311.75 L334.86,311.75 L335.11,311.75 L335.36,311.75 L335.61,311.75 L335.86,311.75 L336.11,311.75 L336.36,311.75 L336.61,311.75 L336.86,311.75 L337.11,311.75 L337.36,311.75 L337.61,311.75 L337.86,311.75 L338.11,311.75 L338.36,311.75 L338.61,311.75 L338.86,311.75 L339.12,311.75 L339.37,311.75 L339.62,311.75 L339.87,311.75 L340.12,311.75 L340.37,311.75 L340.62,311.75 L340.87,311.75 L341.12,311.75 L341.37,311.75 L341.62,311.75 L341.87,311.75 L342.12,311.75 L342.37,311.75 L342.62,311.75 L342.87,311.75 L343.12,311.75 L343.37,311.75 L343.62,311.75 L343.87,311.75 L344.12,311.75 L344.37,311.75 L344.62,311.75 L344.87,311.75 L345.12,311.75 L345.37,311.75 L345.62,311.75 L345.87,311.75 L346.12,311.75 L346.37,311.75 L346.62,311.75 L346.87,311.75 L347.12,311.75 L347.37,311.75 L347.62,311.75 L347.87,311.75 L348.12,311.75 L348.37,311.75 L348.62,311.75 L348.87,311.75 L349.12,311.75 L349.37,311.75 L349.62,311.75 L349.87,311.75 L350.12,311.75 L350.37,311.75 L350.62,311.75 L350.87,311.75 L351.12,311.75 L351.37,311.75 L351.62,311.75 L351.87,311.75 L352.12,311.75 L352.37,311.75 L352.62,311.75 L352.87,311.75 L353.12,311.75 L353.37,311.75 L353.62,311.75 L353.87,311.75 L354.12,311.75 L354.37,311.75 L354.62,311.75 L354.87,311.75 L355.12,311.75 L355.37,311.75 L355.62,311.75 L355.87,311.75 L356.12,311.75 L356.37,311.75 L356.62,311.75 L356.87,311.75 L357.12,311.75 L357.37,311.75 L357.62,311.75 L357.87,311.75 L358.12,311.75 L358.37,311.75 L358.62,311.75 L358.87,311.75 L359.12,311.75 L359.37,311.75 L359.62,311.75 L359.87,311.75 L360.12,311.75 L360.37,311.75 L360.62,311.75 L360.87,311.75 L361.12,311.75 L361.37,311.75 L361.62,311.75 L361.87,311.75 L362.12,311.75 L362.37,311.75 L362.62,311.75 L362.87,311.75 L363.12,311.75 L363.38,311.75 L363.63,311.75 L363.88,311.75 L364.13,311.75 L364.38,311.75 L364.63,311.75 L364.88,311.75 L365.13,311.75 L365.38,311.75 L365.63,311.75 L365.88,311.75 L366.13,311.75 L366.38,311.75 L366.63,311.75 L366.88,311.75 L367.13,311.75 L367.38,311.75 L367.63,311.75 L367.88,311.75 L368.13,311.75 L368.38,311.75 L368.63,311.75 L368.88,311.75 L369.13,311.75 L369.38,311.75 L369.63,311.75 L369.88,311.75 L370.13,311.75 L370.38,311.75 L370.63,311.75 L370.88,311.75 L371.13,311.75 L371.38,311.75 L371.63,311.75 L371.88,311.75 L372.13,311.75 L372.38,311.75 L372.63,311.75 L372.88,311.75 L373.13,311.75 L373.38,311.75 L373.63,311.75 L373.88,311.75 L374.13,311.75 L374.38,311.75 L374.63,311.75 L374.88,311.75 L375.13,311.75 L375.38,311.75 L375.63,311.75 L375.88,311.75 L376.13,311.75 L376.38,311.75 L376.63,311.75 L376.88,311.75 L377.13,311.75 L377.38,311.75 L377.63,311.75 L377.88,311.75 L378.13,311.75 L378.38,311.75 L378.63,311.75 L378.88,311.75 L379.13,311.75 L379.38,311.75 L379.63,311.75 L379.88,311.75 L380.13,311.75 L380.38,311.75 L380.63,311.75 L380.88,311.75 L381.13,311.75 L381.38,311.75 L381.63,311.75 L381.88,311.75 L382.13,311.75 L382.38,311.75 L382.63,311.75 L382.88,311.75 L383.13,311.75 L383.38,311.75 L383.63,311.75 L383.88,311.75 L384.13,311.75 L384.38,311.75 L384.63,311.75 L384.88,311.75 L385.13,311.75 L385.38,311.75 L385.63,311.75 L385.88,311.75 L386.13,311.75 L386.38,311.75 L386.63,311.75 L386.88,311.75 L387.13,311.75 L387.38,311.75 L387.63,311.75 L387.89,311.75 L388.14,311.75 L388.39,311.75 L388.64,311.75 L388.89,311.75 L389.14,311.75 L389.39,311.75 L389.64,311.75 L389.89,311.75 L390.14,311.75 L390.39,311.75 L390.64,311.75 L390.89,311.75 L391.14,311.75 L391.39,311.75 L391.64,311.75 L391.89,311.75 L392.14,311.75 L392.39,311.75 L392.64,311.75 L392.89,311.75 L393.14,311.75 L393.39,311.75 L393.64,311.75 L393.89,311.75 L394.14,311.75 L394.39,311.75 L394.64,311.75 L394.89,311.75 L395.14,311.75 L395.39,311.75 L395.64,311.75 L395.89,311.75 L396.14,311.75 L396.39,311.75 L396.64,311.75 L396.89,311.75 L397.14,311.75 L397.39,311.75 L397.64,311.75 L397.89,311.75 L398.14,311.75 L398.39,311.75 L398.64,311.75 L398.89,311.75 L399.14,311.75 L399.39,311.75 L399.64,311.75 L399.89,311.75 L400.14,311.75 L400.39,311.75 L400.64,311.75 L400.89,311.75 L401.14,311.75 L401.39,311.75 L401.64,311.75 L401.89,311.75 L402.14,311.75 L402.39,311.75 L402.64,311.75 L402.89,311.75 L403.14,311.75 L403.39,311.75 L403.64,311.75 L403.89,311.75 L404.14,311.75 L404.39,311.75 L404.64,311.75 L404.89,311.75 L405.14,311.75 L405.39,311.75 L405.64,311.75 L405.89,311.75 L406.14,311.75 L406.39,311.75 L406.64,311.75 L406.89,311.75 L407.14,311.75 L407.39,311.75 L407.64,311.75 L407.89,311.75 L408.14,311.75 L408.39,311.75 L408.64,311.75 L408.89,311.75 L409.14,311.75 L409.39,311.75 L409.64,311.75 L409.89,311.75 L410.14,311.75 L410.39,311.75 L410.64,311.75 L410.89,311.75 L411.14,311.75 L411.39,311.75 L411.64,311.75 L411.89,311.75 L412.14,311.75 L412.40,311.75 L412.65,311.75 L412.90,311.75 L413.15,311.75 L413.40,311.75 L413.65,311.75 L413.90,311.75 L414.15,311.75 L414.40,311.75 L414.65,311.75 L414.90,311.75 L415.15,311.75 L415.40,311.75 L415.65,311.75 L415.90,311.75 L416.15,311.75 L416.40,311.75 L416.65,311.75 L416.90,311.75 L417.15,311.75 L417.40,311.75 L417.65,311.75 L417.90,311.75 L418.15,311.75 L418.40,311.75 L418.65,311.75 L418.90,311.75 L419.15,311.75 L419.40,311.75 L419.65,311.75 L419.90,311.75 L420.15,311.75 L420.40,311.75 L420.65,311.75 L420.90,311.75 L421.15,311.75 L421.40,311.75 L421.65,311.75 L421.90,311.75 L422.15,311.75 L422.40,311.75 L422.65,311.75 L422.90,311.75 L423.15,311.75 L423.40,311.75 L423.65,311.75 L423.90,311.75 L424.15,311.75 L424.40,311.75 M28.77,93.64 L28.90,93.40 L29.03,93.16 L29.16,92.92 L29.29,92.68 L29.42,92.45 L29.55,92.21 L29.69,91.97 L29.82,91.74 L29.96,91.50 L30.09,91.27 L30.23,91.04 L30.37,90.80 L30.51,90.57 L30.65,90.34 L30.79,90.11 L30.93,89.88 L31.08,89.65 L31.22,89.42 L31.36,89.19 L31.51,88.96 L31.66,88.73 L31.81,88.50 L31.95,88.28 L32.10,88.05 L32.26,87.82 L32.41,87.60 L32.56,87.38 L32.71,87.15 L32.87,86.93 L33.02,86.71 L33.18,86.49 L33.34,86.26 L33.49,86.04 L33.65,85.82 L33.81,85.60 L33.97,85.39 L34.14,85.17 L34.30,84.95 L34.46,84.74 L34.63,84.52 L34.79,84.30 L34.96,84.09 L35.13,83.88 L35.29,83.66 L35.46,83.45 L35.63,83.24 L35.80,83.03 L35.97,82.82 L36.15,82.61 L36.32,82.40 L36.49,82.19 L36.67,81.98 L36.84,81.78 L37.02,81.57 L37.20,81.37 L37.38,81.16 L37.55,80.96 L37.73,80.76 L37.92,80.55 L38.10,80.35 L38.28,80.15 L38.46,79.95 L38.65,79.75 L38.83,79.55 L39.02,79.36 L39.20,79.16 L39.39,78.96 L39.58,78.77 L39.77,78.57 L39.96,78.38 L40.15,78.19 L40.34,77.99 L40.53,77.80 L40.72,77.61 L40.92,77.42 L41.11,77.23 L41.31,77.04 L41.50,76.86 L41.70,76.67 L41.90,76.48 L42.10,76.30 L42.30,76.11 L42.50,75.93 L42.70,75.75 L42.90,75.57 L43.10,75.38 L43.30,75.20 L43.51,75.03 L43.71,74.85 L43.92,74.67 L44.12,74.49 L44.33,74.32 L44.53,74.14 L44.74,73.97 L44.95,73.79 L45.16,73.62 L45.37,73.45 L45.58,73.28 L45.79,73.11 L46.00,72.94 L46.22,72.77 L46.43,72.60 L46.65,72.44 L46.86,72.27 L47.08,72.11 L47.29,71.94 L47.51,71.78 L47.73,71.62 L47.94,71.46 L48.16,71.30 L48.38,71.14 L48.60,70.98 L48.82,70.82 L49.05,70.67 L49.27,70.51 L49.49,70.36 L49.71,70.20 L49.94,70.05 L50.16,69.90 L50.39,69.75 L50.61,69.60 L50.84,69.45 L51.07,69.30 L51.30,69.15 L51.52,69.00 L51.75,68.86 L51.98,68.71 L52.21,68.57 L52.44,68.43 L52.67,68.29 L52.91,68.15 L53.14,68.01 L53.37,67.87 L53.61,67.73 L53.84,67.59 L54.07,67.46 L54.31,67.32 L54.55,67.19 L54.78,67.06 L55.02,66.92 L55.26,66.79 L55.49,66.66 L55.73,66.53 L55.97,66.40 L56.21,66.28 L56.45,66.15 L56.69,66.03 L56.93,65.90 L57.18,65.78 L57.42,65.66 L57.66,65.54 L57.90,65.42 L58.15,65.30 L58.39,65.18 L58.64,65.06 L58.88,64.94 L59.13,64.83 L59.37,64.72 L59.62,64.60 L59.87,64.49 L60.11,64.38 L60.36,64.27 L60.61,64.16 L60.86,64.05 L61.11,63.95 L61.36,63.84 L61.61,63.73 L61.86,63.63 L62.11,63.53 L62.36,63.43 L62.61,63.32 L62.86,63.22 L63.12,63.13 L63.37,63.03 L63.62,62.93 L63.88,62.84 L64.13,62.74 L64.39,62.65 L64.64,62.56 L64.90,62.46 L65.15,62.37 L65.41,62.28 L65.67,62.20 L65.92,62.11 L66.18,62.02 L66.44,61.94 L66.70,61.85 L66.95,61.77 L67.21,61.69 L67.47,61.61 L67.73,61.53 L67.99,61.45 L68.25,61.37 L68.51,61.30 L68.77,61.22 L69.03,61.15 L69.29,61.07 L69.55,61.00 L69.82,60.93 L70.08,60.86 L70.34,60.79 L70.60,60.72 L70.87,60.65 L71.13,60.59 L71.39,60.52 L71.66,60.46 L71.92,60.40 L72.18,60.34 L72.45,60.28 L72.71,60.22 L72.98,60.16 L73.24,60.10 L73.51,60.04 L73.77,59.99 L74.04,59.94 L74.31,59.88 L74.57,59.83 L74.84,59.78 L75.11,59.73 L75.37,59.68 L75.64,59.64 L75.91,59.59 L76.17,59.54 L76.44,59.50 L76.71,59.46 L76.98,59.42 L77.25,59.38 L77.51,59.34 L77.78,59.30 L78.05,59.26 L78.32,59.22 L78.59,59.19 L78.86,59.15 L79.13,59.12 L79.40,59.09 L79.67,59.06 L79.94,59.03 L80.21,59.00 L80.48,58.97 L80.75,58.95 L81.02,58.92 L81.29,58.90 L81.56,58.88 L81.83,58.85 L82.10,58.83 L82.37,58.81 L82.64,58.79 L82.91,58.78 L83.18,58.76 L83.45,58.75 L83.72,58.73 L83.99,58.72 L84.26,58.71 L84.53,58.70 L84.81,58.69 L85.08,58.68 L85.35,58.67 L85.62,58.66 L85.89,58.66 L86.16,58.66 L86.43,58.65 L86.70,58.65 L86.98,58.65 L87.25,58.65 L87.52,58.65 L87.79,58.65 L88.06,58.66 L88.33,58.66 L88.60,58.67 L88.87,58.68 L89.14,58.68 L89.42,58.69 L89.69,58.70 L89.96,58.72 L90.23,58.73 L90.50,58.74 L90.77,58.76 L91.04,58.77 L91.31,58.79 L91.58,58.81 L91.85,58.83 L92.12,58.85 L92.39,58.87 L92.66,58.89 L92.93,58.92 L93.20,58.94 L93.47,58.97 L93.74,59.00 L94.01,59.02 L94.28,59.05 L94.55,59.08 L94.82,59.12 L95.09,59.15 L95.36,59.18 L95.63,59.22 L95.90,59.25 L96.17,59.29 L96.44,59.33 L96.70,59.37 L96.97,59.41 L97.24,59.45 L97.51,59.49 L97.78,59.54 L98.04,59.58 L98.31,59.63 L98.58,59.67 L98.85,59.72 L99.11,59.77 L99.38,59.82 L99.65,59.87 L99.91,59.93 L100.18,59.98 L100.44,60.03 L100.71,60.09 L100.97,60.15 L101.24,60.21 L101.50,60.26 L101.77,60.32 L102.03,60.39 L102.30,60.45 L102.56,60.51 L102.82,60.58 L103.09,60.64 L103.35,60.71 L103.61,60.78 L103.87,60.85 L104.14,60.92 L104.40,60.99 L104.66,61.06 L104.92,61.13 L105.18,61.21 L105.44,61.28 L105.70,61.36 L105.96,61.43 L106.22,61.51 L106.48,61.59 L106.74,61.67 L107.00,61.76 L107.26,61.84 L107.52,61.92 L107.77,62.01 L108.03,62.09 L108.29,62.18 L108.54,62.27 L108.80,62.36 L109.06,62.45 L109.31,62.54 L109.57,62.63 L109.82,62.72 L110.08,62.82 L110.33,62.91 L110.58,63.01 L110.84,63.11 L111.09,63.21 L111.34,63.31 L111.59,63.41 L111.84,63.51 L112.10,63.61 L112.35,63.71 L112.60,63.82 L112.85,63.93 L113.10,64.03 L113.34,64.14 L113.59,64.25 L113.84,64.36 L114.09,64.47 L114.34,64.58 L114.58,64.69 L114.83,64.81 L115.07,64.92 L115.32,65.04 L115.56,65.16 L115.81,65.27 L116.05,65.39 L116.29,65.51 L116.54,65.63 L116.78,65.76 L117.02,65.88 L117.26,66.00 L117.50,66.13 L117.74,66.25 L117.98,66.38 L118.22,66.51 L118.46,66.64 L118.70,66.77 L118.94,66.90 L119.17,67.03 L119.41,67.16 L119.65,67.30 L119.88,67.43 L120.12,67.57 L120.35,67.70 L120.59,67.84 L120.82,67.98 L121.05,68.12 L121.28,68.26 L121.51,68.40 L121.75,68.54 L121.98,68.69 L122.21,68.83 L122.43,68.98 L122.66,69.12 L122.89,69.27 L123.12,69.42 L123.34,69.57 L123.57,69.72 L123.80,69.87 L124.02,70.02 L124.24,70.17 L124.47,70.33 L124.69,70.48 L124.91,70.64 L125.14,70.79 L125.36,70.95 L125.58,71.11 L125.80,71.27 L126.02,71.43 L126.23,71.59 L126.45,71.75 L126.67,71.91 L126.88,72.08 L127.10,72.24 L127.32,72.41 L127.53,72.57 L127.74,72.74 L127.96,72.91 L128.17,73.08 L128.38,73.25 L128.59,73.42 L128.80,73.59 L129.01,73.76 L129.22,73.94 L129.43,74.11 L129.63,74.28 L129.84,74.46 L130.05,74.64 L130.25,74.81 L130.46,74.99 L130.66,75.17 L130.86,75.35 L131.07,75.53 L131.27,75.71 L131.47,75.90 L131.67,76.08 L131.87,76.26 L132.07,76.45 L132.26,76.63 L132.46,76.82 L132.66,77.01 L132.85,77.20 L133.05,77.39 L133.24,77.58 L133.43,77.77 L133.62,77.96 L133.82,78.15 L134.01,78.34 L134.20,78.54 L134.39,78.73 L134.57,78.93 L134.76,79.12 L134.95,79.32 L135.13,79.52 L135.32,79.71 L135.50,79.91 L135.69,80.11 L135.87,80.31 L136.05,80.52 L136.23,80.72 L136.41,80.92 L136.59,81.12 L136.77,81.33 L136.95,81.53 L137.12,81.74 L137.30,81.95 L137.47,82.15 L137.65,82.36 L137.82,82.57 L137.99,82.78 L138.17,82.99 L138.34,83.20 L138.51,83.41 L138.68,83.62 L138.84,83.84 L139.01,84.05 L139.18,84.26 L139.34,84.48 L139.51,84.70 L139.67,84.91 L139.83,85.13 L140.00,85.35 L140.16,85.56 L140.32,85.78 L140.48,86.00 L140.63,86.22 L140.79,86.44 L140.95,86.67 L141.10,86.89 L141.26,87.11 L141.41,87.33 L141.57,87.56 L141.72,87.78 L141.87,88.01 L142.02,88.23 L142.17,88.46 L142.32,88.69 L142.46,88.92 L142.61,89.14 L142.75,89.37 L142.90,89.60 L143.04,89.83 L143.18,90.06 L143.33,90.30 L143.47,90.53 L143.61,90.76 L143.75,90.99 L143.88,91.23 L144.02,91.46 L144.16,91.70 L144.29,91.93 L144.42,92.17 L144.56,92.40 L144.69,92.64 L144.82,92.88 L144.95,93.12 L145.08,93.36 L145.21,93.59 L145.33,93.83 L145.46,94.07 L145.59,94.31 L145.71,94.56 L145.83,94.80 L145.95,95.04 L146.08,95.28 L146.20,95.53 L146.31,95.77 L146.43,96.01 L146.55,96.26 L146.67,96.50 L146.78,96.75 L146.89,97.00 L147.01,97.24 L147.12,97.49 L147.23,97.74 L147.34,97.98 L147.45,98.23 L147.56,98.48 L147.66,98.73 L147.77,98.98 L147.88,99.23 L147.98,99.48 L148.08,99.73 L148.18,99.98 L148.28,100.24 L148.38,100.49 L148.48,100.74 L148.58,100.99 L148.68,101.25 L148.77,101.50 L148.87,101.76 L148.96,102.01 L149.05,102.27 L149.14,102.52 L149.23,102.78 L149.32,103.03 L149.41,103.29 L149.50,103.55 L149.59,103.80 L149.67,104.06 L149.75,104.32 L149.84,104.58 L149.92,104.84 L150.00,105.09 L150.08,105.35 L150.16,105.61 L150.24,105.87 L150.31,106.13 L150.39,106.39 L150.46,106.66 L150.53,106.92 L150.61,107.18 L150.68,107.44 L150.75,107.70 L150.82,107.96 L150.89,108.23 L150.95,108.49 L151.02,108.75 L151.08,109.02 L151.15,109.28 L151.21,109.54 L151.27,109.81 L151.33,110.07 L151.39,110.34 L151.45,110.60 L151.50,110.87 L151.56,111.13 L151.62,111.40 L151.67,111.66 L151.72,111.93 L151.77,112.20 L151.82,112.46 L151.87,112.73 L151.92,113.00 L151.97,113.26 L152.01,113.53 L152.06,113.80 L152.10,114.07 L152.15,114.33 L152.19,114.60 L152.23,114.87 L152.27,115.14 L152.31,115.41 L152.34,115.68 L152.38,115.94 L152.41,116.21 L152.45,116.48 L152.48,116.75 L152.51,117.02 L152.54,117.29 L152.57,117.56 L152.60,117.83 L152.63,118.10 L152.66,118.37 L152.68,118.64 L152.70,118.91 L152.73,119.18 L152.75,119.45 L152.77,119.72 L152.79,119.99 L152.81,120.26 L152.82,120.53 L152.84,120.80 L152.86,121.08 L152.87,121.35 L152.88,121.62 L152.89,121.89 L152.90,122.16 L152.91,122.43 L152.92,122.70 L152.93,122.97 L152.94,123.24 L152.94,123.52 L152.94,123.79 L152.95,124.06 L152.95,124.33 L152.95,124.60 L152.95,124.85 L152.95,125.10 L152.95,125.35 L152.95,125.60 L152.95,125.85 L152.95,126.10 L152.95,126.35 L152.95,126.60 L152.95,126.85 L152.95,127.10 L152.95,127.35 L152.95,127.60 L152.95,127.85 L152.95,128.10 L152.95,128.35 L152.95,128.60 L152.95,128.85 L152.95,129.10 L152.95,129.35 L152.95,129.61 L152.95,129.86 L152.95,130.11 L152.95,130.36 L152.95,130.61 L152.95,130.86 L152.95,131.11 L152.95,131.36 L152.95,131.61 L152.95,131.86 L152.95,132.11 L152.95,132.36 L152.95,132.61 L152.95,132.86 L152.95,133.11 L152.95,133.36 L152.95,133.61 L152.95,133.86 L152.95,134.11 L152.95,134.36 L152.95,134.61 L152.95,134.86 L152.95,135.11 L152.95,135.36 L152.95,135.61 L152.95,135.86 L152.95,136.11 L152.95,136.36 L152.95,136.61 L152.95,136.86 L152.95,137.11 L152.95,137.36 L152.95,137.61 L152.95,137.86 L152.95,138.11 L152.95,138.36 L152.95,138.61 L152.95,138.86 L152.95,139.11 L152.95,139.36 L152.95,139.62 L152.95,139.87 L152.95,140.12 L152.95,140.37 L152.95,140.62 L152.95,140.87 L152.95,141.12 L152.95,141.37 L152.95,141.62 L152.95,141.87 L152.95,142.12 L152.95,142.37 L152.95,142.62 L152.95,142.87 L152.95,143.12 L152.95,143.37 L152.95,143.62 L152.95,143.87 L152.95,144.12 L152.95,144.37 L152.95,144.62 L152.95,144.87 L152.95,145.12 L152.95,145.37 L152.95,145.62 L152.95,145.87 L152.95,146.12 L152.95,146.37 L152.95,146.62 L152.95,146.87 L152.95,147.12 L152.95,147.37 L152.95,147.62 L152.95,147.87 L152.95,148.12 L152.95,148.37 L152.95,148.62 L152.95,148.87 L152.95,149.12 L152.95,149.37 L152.95,149.63 L152.95,149.88 L152.95,150.13 L152.95,150.38 L152.95,150.63 L152.95,150.88 L152.95,151.13 L152.95,151.38 L152.95,151.63 L152.95,151.88 L152.95,152.13 L152.95,152.38 L152.95,152.63 L152.95,152.88 L152.95,153.13 L152.95,153.38 L152.95,153.63 L152.95,153.88 L152.95,154.13 L152.95,154.38 L152.95,154.63 L152.95,154.88 L152.95,155.13 L152.95,155.38 L152.95,155.63 L152.95,155.88 L152.95,156.13 L152.95,156.38 L152.95,156.63 L152.95,156.88 L152.95,157.13 L152.95,157.38 L152.95,157.63 L152.95,157.88 L152.95,158.13 L152.95,158.38 L152.95,158.63 L152.95,158.88 L152.95,159.13 L152.95,159.38 L152.95,159.64 L152.95,159.89 L152.95,160.14 L152.95,160.39 L152.95,160.64 L152.95,160.89 L152.95,161.14 L152.95,161.39 L152.95,161.64 L152.95,161.89 L152.95,162.14 L152.95,162.39 L152.95,162.64 L152.95,162.89 L152.95,163.14 L152.95,163.39 L152.95,163.64 L152.95,163.89 L152.95,164.14 L152.95,164.39 L152.95,164.64 L152.95,164.89 L152.95,165.14 L152.95,165.39 L152.95,165.64 L152.95,165.89 L152.95,166.14 L152.95,166.39 L152.95,166.64 L152.95,166.89 L152.95,167.14 L152.95,167.39 L152.95,167.64 L152.95,167.89 L152.95,168.14 L152.95,168.39 L152.95,168.64 L152.95,168.89 L152.95,169.14 L152.95,169.39 L152.95,169.65 L152.95,169.90 L152.95,170.15 L152.95,170.40 L152.95,170.65 L152.95,170.90 L152.95,171.15 L152.95,171.40 L152.95,171.65 L152.95,171.90 L152.95,172.15 L152.95,172.40 L152.95,172.65 L152.95,172.90 L152.95,173.15 L152.95,173.40 L152.95,173.65 L152.95,173.90 L152.95,174.15 L152.95,174.40 L152.95,174.65 L152.95,174.90 L152.95,175.15 L152.95,175.40 L152.95,175.65 L152.95,175.90 L152.95,176.15 L152.95,176.40 L152.95,176.65 L152.95,176.90 L152.95,177.15 L152.95,177.40 L152.95,177.65 L152.95,177.90 L152.95,178.15 L152.95,178.40 L152.95,178.65 L152.95,178.90 L152.95,179.15 L152.95,179.41 L152.95,179.66 L152.95,179.91 L152.95,180.16 L152.95,180.41 L152.95,180.66 L152.95,180.91 L152.95,181.16 L152.95,181.41 L152.95,181.66 L152.95,181.91 L152.95,182.16 L152.95,182.41 L152.95,182.66 L152.95,182.91 L152.95,183.16 L152.95,183.41 L152.95,183.66 L152.95,183.91 L152.95,184.16 L152.95,184.41 L152.95,184.66 L152.95,184.91 L152.95,185.16 L152.95,185.41 L152.95,185.66 L152.95,185.91 L152.95,186.16 L152.95,186.41 L152.95,186.66 L152.95,186.91 L152.95,187.16 L152.95,187.41 L152.95,187.66 L152.95,187.91 L152.95,188.16 L152.95,188.41 L152.95,188.66 L152.95,188.91 L152.95,189.16 L152.95,189.42 L152.95,189.67 L152.95,189.92 L152.95,190.17 L152.95,190.42 L152.95,190.67 L152.95,190.92 L152.95,191.17 L152.95,191.42 L152.95,191.67 L152.95,191.92 L152.95,192.17 L152.95,192.42 L152.95,192.67 L152.95,192.92 L152.95,193.17 L152.95,193.42 L152.95,193.67 L152.95,193.92 L152.95,194.17 L152.95,194.42 L152.95,194.67 L152.95,194.92 L152.95,195.17 L152.95,195.42 L152.95,195.67 L152.95,195.92 L152.95,196.17 L152.95,196.42 L152.95,196.67 L152.95,196.92 L152.95,197.17 L152.95,197.42 L152.95,197.67 L152.95,197.92 L152.95,198.17 L152.95,198.42 L152.95,198.67 L152.95,198.92 L152.95,199.17 L152.95,199.43 L152.95,199.68 L152.95,199.93 L152.95,200.18 L152.95,200.43 L152.95,200.68 L152.95,200.93 L152.95,201.18 L152.95,201.43 L152.95,201.68 L152.95,201.93 L152.95,202.18 L152.95,202.43 L152.95,202.68 L152.95,202.93 L152.95,203.18 L152.95,203.43 L152.95,203.68 L152.95,203.93 L152.95,204.18 L152.95,204.43 L152.95,204.68 L152.95,204.93 L152.95,205.18 L152.95,205.43 L152.95,205.68 L152.95,205.93 L152.95,206.18 L152.95,206.43 L152.95,206.68 L152.95,206.93 L152.95,207.18 L152.95,207.43 L152.95,207.68 L152.95,207.93 L152.95,208.18 L152.95,208.43 L152.95,208.68 L152.95,208.93 L152.95,209.18 L152.95,209.44 L152.95,209.69 L152.95,209.94 L152.95,210.19 L152.95,210.44 L152.95,210.69 L152.95,210.94 L152.95,211.19 L152.95,211.44 L152.95,211.69 L152.95,211.94 L152.95,212.19 L152.95,212.44 L152.95,212.69 L152.95,212.94 L152.95,213.19 L152.95,213.44 L152.95,213.69 L152.95,213.94 L152.95,214.19 L152.95,214.44 L152.95,214.69 L152.95,214.94 L152.95,215.19 L152.95,215.44 L152.95,215.69 L152.95,215.94 L152.95,216.19 L152.95,216.44 L152.95,216.69 L152.95,216.94 L152.95,217.19 L152.95,217.44 L152.95,217.69 L152.95,217.94 L152.95,218.19 L152.95,218.44 L152.95,218.69 L152.95,218.94 L152.95,219.19 L152.95,219.45 L152.95,219.70 L152.95,219.95 L152.95,220.20 L152.95,220.45 L152.95,220.70 L152.95,220.95 L152.95,221.20 L152.95,221.45 L152.95,221.70 L152.95,221.95 L152.95,222.20 L152.95,222.45 L152.95,222.70 L152.95,222.95 L152.95,223.20 L152.95,223.45 L152.95,223.70 L152.95,223.95 L152.95,224.20 L152.95,224.45 L152.95,224.70 L152.95,224.95 L152.95,225.20 L152.95,225.45 L152.95,225.70 L152.95,225.95 L152.95,226.20 L152.95,226.45 L152.95,226.70 L152.95,226.95 L152.95,227.20 L152.95,227.45 L152.95,227.70 L152.95,227.95 L152.95,228.20 L152.95,228.45 L152.95,228.70 L152.95,228.95 L152.95,229.21 L152.95,229.46 L152.95,229.71 L152.95,229.96 L152.95,230.21 L152.95,230.46 L152.95,230.71 L152.95,230.96 L152.95,231.21 L152.95,231.46 L152.95,231.71 L152.95,231.96 L152.95,232.21 L152.95,232.46 L152.95,232.71 L152.95,232.96 L152.95,233.21 L152.95,233.46 L152.95,233.71 L152.95,233.96 L152.95,234.21 L152.95,234.46 L152.95,234.71 L152.95,234.96 L152.95,235.21 L152.95,235.46 L152.95,235.71 L152.95,235.96 L152.95,236.21 L152.95,236.46 L152.95,236.71 L152.95,236.96 L152.95,237.21 L152.95,237.46 L152.95,237.71 L152.95,237.96 L152.95,238.21 L152.95,238.46 L152.95,238.71 L152.95,238.96 L152.95,239.22 L152.95,239.47 L152.95,239.72 L152.95,239.97 L152.95,240.22 L152.95,240.47 L152.95,240.72 L152.95,240.97 L152.95,241.22 L152.95,241.47 L152.95,241.72 L152.95,241.97 L152.95,242.22 L152.95,242.47 L152.95,242.72 L152.95,242.97 L152.95,243.22 L152.95,243.47 L152.95,243.72 L152.95,243.97 L152.95,244.22 L152.95,244.47 L152.95,244.72 L152.95,244.97 L152.95,245.22 L152.95,245.47 L152.95,245.72 L152.95,245.97 L152.95,246.22 L152.95,246.47 L152.95,246.72 L152.95,246.97 L152.95,247.22 L152.95,247.47 L152.95,247.72 L152.95,247.97 L152.95,248.22 L152.95,248.47 L152.95,248.72 L152.95,248.97 L152.95,249.23 L152.95,249.48 L152.95,249.73 L152.95,249.98 L152.95,250.23 L152.95,250.48 L152.95,250.73 L152.95,250.98 L152.95,251.23 L152.95,251.48 L152.95,251.73 L152.95,251.98 L152.95,252.23 L152.95,252.48 L152.95,252.73 L152.95,252.98 L152.95,253.23 L152.95,253.48 L152.95,253.73 L152.95,253.98 L152.95,254.23 L152.95,254.48 L152.95,254.73 L152.95,254.98 L152.95,255.23 L152.95,255.48 L152.95,255.73 L152.95,255.98 L152.95,256.23 L152.95,256.48 L152.95,256.73 L152.95,256.98 L152.95,257.23 L152.95,257.48 L152.95,257.73 L152.95,257.98 L152.95,258.23 L152.95,258.48 L152.95,258.73 L152.95,258.98 L152.95,259.24 L152.95,259.49 L152.95,259.74 L152.95,259.99 L152.95,260.24 L152.95,260.49 L152.95,260.74 L152.95,260.99 L152.95,261.24 L152.95,261.49 L152.95,261.74 L152.95,261.99 L152.95,262.24 L152.95,262.49 L152.95,262.74 L152.95,262.99 L152.95,263.24 L152.95,263.49 L152.95,263.74 L152.95,263.99 L152.95,264.24 L152.95,264.49 L152.95,264.74 L152.95,264.99 L152.95,265.24 L152.95,265.49 L152.95,265.74 L152.95,265.99 L152.95,266.24 L152.95,266.49 L152.95,266.74 L152.95,266.99 L152.95,267.24 L152.95,267.49 L152.95,267.74 L152.95,267.99 L152.95,268.24 L152.95,268.49 L152.95,268.74 L152.95,268.99 L152.95,269.25 L152.95,269.50 L152.95,269.75 L152.95,270.00 L152.95,270.25 L152.95,270.50 L152.95,270.75 L152.95,271.00 L152.95,271.25 L152.95,271.50 L152.95,271.75 L152.95,272.00 L152.95,272.25 L152.95,272.50 L152.95,272.75 L152.95,273.00 L152.95,273.25 L152.95,273.50 L152.95,273.75 L152.75,274.50 L152.75,274.71 L152.75,274.92 L152.76,275.13 L152.76,275.34 L152.77,275.56 L152.78,275.77 L152.79,275.98 L152.80,276.19 L152.82,276.40 L152.83,276.61 L152.85,276.82 L152.87,277.03 L152.89,277.24 L152.91,277.45 L152.93,277.66 L152.96,277.87 L152.98,278.08 L153.01,278.29 L153.04,278.50 L153.07,278.71 L153.11,278.91 L153.14,279.12 L153.18,279.33 L153.21,279.54 L153.25,279.75 L153.29,279.95 L153.34,280.16 L153.38,280.37 L153.43,280.57 L153.47,280.78 L153.52,280.98 L153.57,281.19 L153.63,281.39 L153.68,281.60 L153.73,281.80 L153.79,282.00 L153.85,282.21 L153.91,282.41 L153.97,282.61 L154.03,282.81 L154.10,283.01 L154.16,283.21 L154.23,283.41 L154.30,283.61 L154.37,283.81 L154.44,284.01 L154.52,284.21 L154.59,284.41 L154.67,284.60 L154.75,284.80 L154.83,284.99 L154.91,285.19 L154.99,285.38 L155.07,285.58 L155.16,285.77 L155.25,285.96 L155.34,286.15 L155.43,286.34 L155.52,286.53 L155.61,286.72 L155.71,286.91 L155.80,287.10 L155.90,287.29 L156.00,287.48 L156.10,287.66 L156.20,287.85 L156.30,288.03 L156.41,288.21 L156.51,288.40 L156.62,288.58 L156.73,288.76 L156.84,288.94 L156.95,289.12 L157.06,289.30 L157.18,289.48 L157.29,289.65 L157.41,289.83 L157.53,290.00 L157.65,290.18 L157.77,290.35 L157.89,290.52 L158.01,290.69 L158.14,290.86 L158.26,291.03 L158.39,291.20 L158.52,291.37 L158.65,291.54 L158.78,291.70 L158.91,291.87 L159.05,292.03 L159.18,292.19 L159.32,292.35 L159.45,292.51 L159.59,292.67 L159.73,292.83 L159.87,292.99 L160.02,293.14 L160.16,293.30 L160.30,293.45 L160.45,293.60 L160.60,293.76 L160.74,293.91 L160.89,294.06 L161.04,294.20 L161.20,294.35 L161.35,294.50 L161.50,294.64 L161.66,294.78 L161.81,294.93 L161.97,295.07 L162.13,295.21 L162.29,295.35 L162.45,295.48 L162.61,295.62 L162.77,295.75 L162.93,295.89 L163.10,296.02 L163.26,296.15 L163.43,296.28 L163.60,296.41 L163.77,296.54 L163.94,296.66 L164.11,296.79 L164.28,296.91 L164.45,297.03 L164.62,297.15 L164.80,297.27 L164.97,297.39 L165.15,297.51 L165.32,297.62 L165.50,297.74 L165.68,297.85 L165.86,297.96 L166.04,298.07 L166.22,298.18 L166.40,298.29 L166.59,298.39 L166.77,298.50 L166.95,298.60 L167.14,298.70 L167.32,298.80 L167.51,298.90 L167.70,299.00 L167.89,299.09 L168.08,299.19 L168.27,299.28 L168.46,299.37 L168.65,299.46 L168.84,299.55 L169.03,299.64 L169.22,299.73 L169.42,299.81 L169.61,299.89 L169.81,299.97 L170.00,300.05 L170.20,300.13 L170.39,300.21 L170.59,300.28 L170.79,300.36 L170.99,300.43 L171.19,300.50 L171.39,300.57 L171.59,300.64 L171.79,300.70 L171.99,300.77 L172.19,300.83 L172.39,300.89 L172.59,300.95 L172.80,301.01 L173.00,301.07 L173.20,301.12 L173.41,301.17 L173.61,301.23 L173.82,301.28 L174.02,301.33 L174.23,301.37 L174.43,301.42 L174.64,301.46 L174.85,301.51 L175.05,301.55 L175.26,301.59 L175.47,301.63 L175.68,301.67 L175.88,301.72 L176.09,301.76 L176.30,301.80 L176.50,301.84 L176.71,301.88 L176.92,301.92 L177.13,301.95 L177.34,301.99 L177.55,302.02 L177.76,302.05 L177.97,302.08 L178.18,302.10 L178.39,302.13 L178.60,302.15 L178.81,302.18 L179.03,302.20 L179.24,302.22 L179.45,302.23 L179.66,302.25 L179.87,302.26 L180.09,302.28 L180.30,302.29 L180.55,302.30 L180.80,302.31 L181.05,302.32 L181.30,302.33 L181.55,302.34 L181.80,302.35 L182.05,302.36 L182.30,302.37 L182.55,302.38 L182.80,302.39 L183.05,302.40 L183.30,302.41 L183.55,302.42 L183.80,302.43 L184.05,302.44 L184.30,302.45 L184.55,302.46 L184.80,302.47 L185.05,302.48 L185.30,302.49 L185.55,302.50 L185.80,302.51 L186.05,302.52 L186.30,302.53 L186.55,302.54 L186.80,302.55 L187.05,302.56 L187.30,302.57 L187.55,302.58 L187.80,302.59 L188.05,302.60 L188.30,302.61 L188.55,302.62 L188.80,302.63 L189.05,302.64 L189.30,302.65 L189.55,302.65 L189.80,302.65 L190.05,302.65 L190.30,302.65 L190.55,302.65 L190.80,302.65 L191.05,302.65 L191.30,302.65 L191.55,302.65 L191.80,302.65 L192.05,302.65 L192.30,302.65 L192.56,302.65 L192.81,302.65 L193.06,302.65 L193.31,302.65 L193.56,302.65 L193.81,302.65 L194.06,302.65 L194.31,302.65 L194.56,302.65 L194.81,302.65 L195.06,302.65 L195.31,302.65 L195.56,302.65 L195.81,302.65 L196.06,302.65 L196.31,302.65 L196.56,302.65 L196.81,302.65 L197.06,302.65 L197.31,302.65 L197.56,302.65 L197.81,302.65 L198.06,302.65 L198.31,302.65 L198.56,302.65 L198.81,302.65 L199.06,302.65 L199.31,302.65 L199.56,302.65 L199.81,302.65 L200.06,302.65 L200.31,302.65 L200.56,302.65 L200.81,302.65 L201.06,302.65 L201.31,302.65 L201.56,302.65 L201.81,302.65 L202.06,302.65 L202.31,302.65 L202.56,302.65 L202.81,302.65 L203.06,302.65 L203.31,302.65 L203.56,302.65 L203.81,302.65 L204.06,302.65 L204.31,302.65 L204.56,302.65 L204.81,302.65 L205.06,302.65 L205.31,302.65 L205.56,302.65 L205.81,302.65 L206.06,302.65 L206.31,302.65 L206.56,302.65 L206.81,302.65 L207.06,302.65 L207.31,302.65 L207.56,302.65 L207.81,302.65 L208.06,302.65 L208.31,302.65 L208.56,302.65 L208.81,302.65 L209.06,302.65 L209.31,302.65 L209.56,302.65 L209.81,302.65 L210.06,302.65 L210.31,302.65 L210.56,302.65 L210.81,302.65 L211.06,302.65 L211.31,302.65 L211.56,302.65 L211.81,302.65 L212.06,302.65 L212.31,302.65 L212.56,302.65 L212.81,302.65 L213.06,302.65 L213.31,302.65 L213.56,302.65 L213.81,302.65 L214.06,302.65 L214.31,302.65 L214.56,302.65 L214.81,302.65 L215.06,302.65 L215.31,302.65 L215.56,302.65 L215.81,302.65 L216.06,302.65 L216.31,302.65 L216.56,302.65 L216.81,302.65 L217.07,302.65 L217.32,302.65 L217.57,302.65 L217.82,302.65 L218.07,302.65 L218.32,302.65 L218.57,302.65 L218.82,302.65 L219.07,302.65 L219.32,302.65 L219.57,302.65 L219.82,302.65 L220.07,302.65 L220.32,302.65 L220.57,302.65 L220.82,302.65 L221.07,302.65 L221.32,302.65 L221.57,302.65 L221.82,302.65 L222.07,302.65 L222.32,302.65 L222.57,302.65 L222.82,302.65 L223.07,302.65 L223.32,302.65 L223.57,302.65 L223.82,302.65 L224.07,302.65 L224.32,302.65 L224.57,302.65 L224.82,302.65 L225.07,302.65 L225.32,302.65 L225.57,302.65 L225.82,302.65 L226.07,302.65 L226.32,302.65 L226.57,302.65 L226.82,302.65 L227.07,302.65 L227.32,302.65 L227.57,302.65 L227.82,302.65 L228.07,302.65 L228.32,302.65 L228.57,302.65 L228.82,302.65 L229.07,302.65 L229.32,302.65 L229.57,302.65 L229.82,302.65 L230.07,302.65 L230.32,302.65 L230.57,302.65 L230.82,302.65 L231.07,302.65 L231.32,302.65 L231.57,302.65 L231.82,302.65 L232.07,302.65 L232.32,302.65 L232.57,302.65 L232.82,302.65 L233.07,302.65 L233.32,302.65 L233.57,302.65 L233.82,302.65 L234.07,302.65 L234.32,302.65 L234.57,302.65 L234.82,302.65 L235.07,302.65 L235.32,302.65 L235.57,302.65 L235.82,302.65 L236.07,302.65 L236.32,302.65 L236.57,302.65 L236.82,302.65 L237.07,302.65 L237.32,302.65 L237.57,302.65 L237.82,302.65 L238.07,302.65 L238.32,302.65 L238.57,302.65 L238.82,302.65 L239.07,302.65 L239.32,302.65 L239.57,302.65 L239.82,302.65 L240.07,302.65 L240.32,302.65 L240.57,302.65 L240.82,302.65 L241.07,302.65 L241.32,302.65 L241.58,302.65 L241.83,302.65 L242.08,302.65 L242.33,302.65 L242.58,302.65 L242.83,302.65 L243.08,302.65 L243.33,302.65 L243.58,302.65 L243.83,302.65 L244.08,302.65 L244.33,302.65 L244.58,302.65 L244.83,302.65 L245.08,302.65 L245.33,302.65 L245.58,302.65 L245.83,302.65 L246.08,302.65 L246.33,302.65 L246.58,302.65 L246.83,302.65 L247.08,302.65 L247.33,302.65 L247.58,302.65 L247.83,302.65 L248.08,302.65 L248.33,302.65 L248.58,302.65 L248.83,302.65 L249.08,302.65 L249.33,302.65 L249.58,302.65 L249.83,302.65 L250.08,302.65 L250.33,302.65 L250.58,302.65 L250.83,302.65 L251.08,302.65 L251.33,302.65 L251.58,302.65 L251.83,302.65 L252.08,302.65 L252.33,302.65 L252.58,302.65 L252.83,302.65 L253.08,302.65 L253.33,302.65 L253.58,302.65 L253.83,302.65 L254.08,302.65 L254.33,302.65 L254.58,302.65 L254.83,302.65 L255.08,302.65 L255.33,302.65 L255.58,302.65 L255.83,302.65 L256.08,302.65 L256.33,302.65 L256.58,302.65 L256.83,302.65 L257.08,302.65 L257.33,302.65 L257.58,302.65 L257.83,302.65 L258.08,302.65 L258.33,302.65 L258.58,302.65 L258.83,302.65 L259.08,302.65 L259.33,302.65 L259.58,302.65 L259.83,302.65 L260.08,302.65 L260.33,302.65 L260.58,302.65 L260.83,302.65 L261.08,302.65 L261.33,302.65 L261.58,302.65 L261.83,302.65 L262.08,302.65 L262.33,302.65 L262.58,302.65 L262.83,302.65 L263.08,302.65 L263.33,302.65 L263.58,302.65 L263.83,302.65 L264.08,302.65 L264.33,302.65 L264.58,302.65 L264.83,302.65 L265.08,302.65 L265.33,302.65 L265.58,302.65 L265.84,302.65 L266.09,302.65 L266.34,302.65 L266.59,302.65 L266.84,302.65 L267.09,302.65 L267.34,302.65 L267.59,302.65 L267.84,302.65 L268.09,302.65 L268.34,302.65 L268.59,302.65 L268.84,302.65 L269.09,302.65 L269.34,302.65 L269.59,302.65 L269.84,302.65 L270.09,302.65 L270.34,302.65 L270.59,302.65 L270.84,302.65 L271.09,302.65 L271.34,302.65 L271.59,302.65 L271.84,302.65 L272.09,302.65 L272.34,302.65 L272.59,302.65 L272.84,302.65 L273.09,302.65 L273.34,302.65 L273.59,302.65 L273.84,302.65 L274.09,302.65 L274.34,302.65 L274.59,302.65 L274.84,302.65 L275.09,302.65 L275.34,302.65 L275.59,302.65 L275.84,302.65 L276.09,302.65 L276.34,302.65 L276.59,302.65 L276.84,302.65 L277.09,302.65 L277.34,302.65 L277.59,302.65 L277.84,302.65 L278.09,302.65 L278.34,302.65 L278.59,302.65 L278.84,302.65 L279.09,302.65 L279.34,302.65 L279.59,302.65 L279.84,302.65 L280.09,302.65 L280.34,302.65 L280.59,302.65 L280.84,302.65 L281.09,302.65 L281.34,302.65 L281.59,302.65 L281.84,302.65 L282.09,302.65 L282.34,302.65 L282.59,302.65 L282.84,302.65 L283.09,302.65 L283.34,302.65 L283.59,302.65 L283.84,302.65 L284.09,302.65 L284.34,302.65 L284.59,302.65 L284.84,302.65 L285.09,302.65 L285.34,302.65 L285.59,302.65 L285.84,302.65 L286.09,302.65 L286.34,302.65 L286.59,302.65 L286.84,302.65 L287.09,302.65 L287.34,302.65 L287.59,302.65 L287.84,302.65 L288.09,302.65 L288.34,302.65 L288.59,302.65 L288.84,302.65 L289.09,302.65 L289.34,302.65 L289.59,302.65 L289.84,302.65 L290.09,302.65 L290.35,302.65 L290.60,302.65 L290.85,302.65 L291.10,302.65 L291.35,302.65 L291.60,302.65 L291.85,302.65 L292.10,302.65 L292.35,302.65 L292.60,302.65 L292.85,302.65 L293.10,302.65 L293.35,302.65 L293.60,302.65 L293.85,302.65 L294.10,302.65 L294.35,302.65 L294.60,302.65 L294.85,302.65 L295.10,302.65 L295.35,302.65 L295.60,302.65 L295.85,302.65 L296.10,302.65 L296.35,302.65 L296.60,302.65 L296.85,302.65 L297.10,302.65 L297.35,302.65 L297.60,302.65 L297.85,302.65 L298.10,302.65 L298.35,302.65 L298.60,302.65 L298.85,302.65 L299.10,302.65 L299.35,302.65 L299.60,302.65 L299.85,302.65 L300.10,302.65 L300.35,302.65 L300.60,302.65 L300.85,302.65 L301.10,302.65 L301.35,302.65 L301.60,302.65 L301.85,302.65 L302.10,302.65 L302.35,302.65 L302.60,302.65 L302.85,302.65 L303.10,302.65 L303.35,302.65 L303.60,302.65 L303.85,302.65 L304.10,302.65 L304.35,302.65 L304.60,302.65 L304.85,302.65 L305.10,302.65 L305.35,302.65 L305.60,302.65 L305.85,302.65 L306.10,302.65 L306.35,302.65 L306.60,302.65 L306.85,302.65 L307.10,302.65 L307.35,302.65 L307.60,302.65 L307.85,302.65 L308.10,302.65 L308.35,302.65 L308.60,302.65 L308.85,302.65 L309.10,302.65 L309.35,302.65 L309.60,302.65 L309.85,302.65 L310.10,302.65 L310.35,302.65 L310.60,302.65 L310.85,302.65 L311.10,302.65 L311.35,302.65 L311.60,302.65 L311.85,302.65 L312.10,302.65 L312.35,302.65 L312.60,302.65 L312.85,302.65 L313.10,302.65 L313.35,302.65 L313.60,302.65 L313.85,302.65 L314.10,302.65 L314.35,302.65 L314.61,302.65 L314.86,302.65 L315.11,302.65 L315.36,302.65 L315.61,302.65 L315.86,302.65 L316.11,302.65 L316.36,302.65 L316.61,302.65 L316.86,302.65 L317.11,302.65 L317.36,302.65 L317.61,302.65 L317.86,302.65 L318.11,302.65 L318.36,302.65 L318.61,302.65 L318.86,302.65 L319.11,302.65 L319.36,302.65 L319.61,302.65 L319.86,302.65 L320.11,302.65 L320.36,302.65 L320.61,302.65 L320.86,302.65 L321.11,302.65 L321.36,302.65 L321.61,302.65 L321.86,302.65 L322.11,302.65 L322.36,302.65 L322.61,302.65 L322.86,302.65 L323.11,302.65 L323.36,302.65 L323.61,302.65 L323.86,302.65 L324.11,302.65 L324.36,302.65 L324.61,302.65 L324.86,302.65 L325.11,302.65 L325.36,302.65 L325.61,302.65 L325.86,302.65 L326.11,302.65 L326.36,302.65 L326.61,302.65 L326.86,302.65 L327.11,302.65 L327.36,302.65 L327.61,302.65 L327.86,302.65 L328.11,302.65 L328.36,302.65 L328.61,302.65 L328.86,302.65 L329.11,302.65 L329.36,302.65 L329.61,302.65 L329.86,302.65 L330.11,302.65 L330.36,302.65 L330.61,302.65 L330.86,302.65 L331.11,302.65 L331.36,302.65 L331.61,302.65 L331.86,302.65 L332.11,302.65 L332.36,302.65 L332.61,302.65 L332.86,302.65 L333.11,302.65 L333.36,302.65 L333.61,302.65 L333.86,302.65 L334.11,302.65 L334.36,302.65 L334.61,302.65 L334.86,302.65 L335.11,302.65 L335.36,302.65 L335.61,302.65 L335.86,302.65 L336.11,302.65 L336.36,302.65 L336.61,302.65 L336.86,302.65 L337.11,302.65 L337.36,302.65 L337.61,302.65 L337.86,302.65 L338.11,302.65 L338.36,302.65 L338.61,302.65 L338.86,302.65 L339.12,302.65 L339.37,302.65 L339.62,302.65 L339.87,302.65 L340.12,302.65 L340.37,302.65 L340.62,302.65 L340.87,302.65 L341.12,302.65 L341.37,302.65 L341.62,302.65 L341.87,302.65 L342.12,302.65 L342.37,302.65 L342.62,302.65 L342.87,302.65 L343.12,302.65 L343.37,302.65 L343.62,302.65 L343.87,302.65 L344.12,302.65 L344.37,302.65 L344.62,302.65 L344.87,302.65 L345.12,302.65 L345.37,302.65 L345.62,302.65 L345.87,302.65 L346.12,302.65 L346.37,302.65 L346.62,302.65 L346.87,302.65 L347.12,302.65 L347.37,302.65 L347.62,302.65 L347.87,302.65 L348.12,302.65 L348.37,302.65 L348.62,302.65 L348.87,302.65 L349.12,302.65 L349.37,302.65 L349.62,302.65 L349.87,302.65 L350.12,302.65 L350.37,302.65 L350.62,302.65 L350.87,302.65 L351.12,302.65 L351.37,302.65 L351.62,302.65 L351.87,302.65 L352.12,302.65 L352.37,302.65 L352.62,302.65 L352.87,302.65 L353.12,302.65 L353.37,302.65 L353.62,302.65 L353.87,302.65 L354.12,302.65 L354.37,302.65 L354.62,302.65 L354.87,302.65 L355.12,302.65 L355.37,302.65 L355.62,302.65 L355.87,302.65 L356.12,302.65 L356.37,302.65 L356.62,302.65 L356.87,302.65 L357.12,302.65 L357.37,302.65 L357.62,302.65 L357.87,302.65 L358.12,302.65 L358.37,302.65 L358.62,302.65 L358.87,302.65 L359.12,302.65 L359.37,302.65 L359.62,302.65 L359.87,302.65 L360.12,302.65 L360.37,302.65 L360.62,302.65 L360.87,302.65 L361.12,302.65 L361.37,302.65 L361.62,302.65 L361.87,302.65 L362.12,302.65 L362.37,302.65 L362.62,302.65 L362.87,302.65 L363.12,302.65 L363.38,302.65 L363.63,302.65 L363.88,302.65 L364.13,302.65 L364.38,302.65 L364.63,302.65 L364.88,302.65 L365.13,302.65 L365.38,302.65 L365.63,302.65 L365.88,302.65 L366.13,302.65 L366.38,302.65 L366.63,302.65 L366.88,302.65 L367.13,302.65 L367.38,302.65 L367.63,302.65 L367.88,302.65 L368.13,302.65 L368.38,302.65 L368.63,302.65 L368.88,302.65 L369.13,302.65 L369.38,302.65 L369.63,302.65 L369.88,302.65 L370.13,302.65 L370.38,302.65 L370.63,302.65 L370.88,302.65 L371.13,302.65 L371.38,302.65 L371.63,302.65 L371.88,302.65 L372.13,302.65 L372.38,302.65 L372.63,302.65 L372.88,302.65 L373.13,302.65 L373.38,302.65 L373.63,302.65 L373.88,302.65 L374.13,302.65 L374.38,302.65 L374.63,302.65 L374.88,302.65 L375.13,302.65 L375.38,302.65 L375.63,302.65 L375.88,302.65 L376.13,302.65 L376.38,302.65 L376.63,302.65 L376.88,302.65 L377.13,302.65 L377.38,302.65 L377.63,302.65 L377.88,302.65 L378.13,302.65 L378.38,302.65 L378.63,302.65 L378.88,302.65 L379.13,302.65 L379.38,302.65 L379.63,302.65 L379.88,302.65 L380.13,302.65 L380.38,302.65 L380.63,302.65 L380.88,302.65 L381.13,302.65 L381.38,302.65 L381.63,302.65 L381.88,302.65 L382.13,302.65 L382.38,302.65 L382.63,302.65 L382.88,302.65 L383.13,302.65 L383.38,302.65 L383.63,302.65 L383.88,302.65 L384.13,302.65 L384.38,302.65 L384.63,302.65 L384.88,302.65 L385.13,302.65 L385.38,302.65 L385.63,302.65 L385.88,302.65 L386.13,302.65 L386.38,302.65 L386.63,302.65 L386.88,302.65 L387.13,302.65 L387.38,302.65 L387.63,302.65 L387.89,302.65 L388.14,302.65 L388.39,302.65 L388.64,302.65 L388.89,302.65 L389.14,302.65 L389.39,302.65 L389.64,302.65 L389.89,302.65 L390.14,302.65 L390.39,302.65 L390.64,302.65 L390.89,302.65 L391.14,302.65 L391.39,302.65 L391.64,302.65 L391.89,302.65 L392.14,302.65 L392.39,302.65 L392.64,302.65 L392.89,302.65 L393.14,302.65 L393.39,302.65 L393.64,302.65 L393.89,302.65 L394.14,302.65 L394.39,302.65 L394.64,302.65 L394.89,302.65 L395.14,302.65 L395.39,302.65 L395.64,302.65 L395.89,302.65 L396.14,302.65 L396.39,302.65 L396.64,302.65 L396.89,302.65 L397.14,302.65 L397.39,302.65 L397.64,302.65 L397.89,302.65 L398.14,302.65 L398.39,302.65 L398.64,302.65 L398.89,302.65 L399.14,302.65 L399.39,302.65 L399.64,302.65 L399.89,302.65 L400.14,302.65 L400.39,302.65 L400.64,302.65 L400.89,302.65 L401.14,302.65 L401.39,302.65 L401.64,302.65 L401.89,302.65 L402.14,302.65 L402.39,302.65 L402.64,302.65 L402.89,302.65 L403.14,302.65 L403.39,302.65 L403.64,302.65 L403.89,302.65 L404.14,302.65 L404.39,302.65 L404.64,302.65 L404.89,302.65 L405.14,302.65 L405.39,302.65 L405.64,302.65 L405.89,302.65 L406.14,302.65 L406.39,302.65 L406.64,302.65 L406.89,302.65 L407.14,302.65 L407.39,302.65 L407.64,302.65 L407.89,302.65 L408.14,302.65 L408.39,302.65 L408.64,302.65 L408.89,302.65 L409.14,302.65 L409.39,302.65 L409.64,302.65 L409.89,302.65 L410.14,302.65 L410.39,302.65 L410.64,302.65 L410.89,302.65 L411.14,302.65 L411.39,302.65 L411.64,302.65 L411.89,302.65 L412.14,302.65 L412.40,302.65 L412.65,302.65 L412.90,302.65 L413.15,302.65 L413.40,302.65 L413.65,302.65 L413.90,302.65 L414.15,302.65 L414.40,302.65 L414.65,302.65 L414.90,302.65 L415.15,302.65 L415.40,302.65 L415.65,302.65 L415.90,302.65 L416.15,302.65 L416.40,302.65 L416.65,302.65 L416.90,302.65 L417.15,302.65 L417.40,302.65 L417.65,302.65 L417.90,302.65 L418.15,302.65 L418.40,302.65 L418.65,302.65 L418.90,302.65 L419.15,302.65 L419.40,302.65 L419.65,302.65 L419.90,302.65 L420.15,302.65 L420.40,302.65 L420.65,302.65 L420.90,302.65 L421.15,302.65 L421.40,302.65 L421.65,302.65 L421.90,302.65 L422.15,302.65 L422.40,302.65 L422.65,302.65 L422.90,302.65 L423.15,302.65 L423.40,302.65 L423.65,302.65 L423.90,302.65 L424.15,302.65 L424.40,302.65" fill="none" stroke="#000" stroke-width="1.7"/>
<path d="M43.37,90.06 L35.29,83.66 M47.95,84.95 L40.72,77.61 M53.31,80.31 L47.08,72.11 M59.02,76.50 L53.84,67.59 M65.15,73.42 L61.11,63.95 M71.84,71.06 L69.03,61.15 M78.54,69.60 L76.98,59.42 M85.61,68.97 L85.35,58.67 M92.46,69.22 L93.47,58.97 M99.24,70.31 L101.50,60.26 M106.04,72.31 L109.57,62.63 M112.33,75.05 L117.02,65.88 M118.43,78.67 L124.24,70.17 M123.84,82.89 L130.66,75.17 M128.69,87.74 L136.41,80.92 M133.04,93.34 L141.57,87.56 M136.54,99.25 L145.71,94.56 M139.36,105.75 L149.05,102.27 M141.28,112.34 L151.33,110.07 M142.38,119.12 L152.63,118.10 M142.65,126.35 L152.95,126.35 M142.65,133.11 L152.95,133.11 M142.65,140.12 L152.95,140.12 M142.65,146.87 L152.95,146.87 M142.65,153.88 L152.95,153.88 M142.65,160.89 L152.95,160.89 M142.65,167.64 L152.95,167.64 M142.65,174.65 L152.95,174.65 M142.65,181.41 L152.95,181.41 M142.65,188.41 L152.95,188.41 M142.65,195.17 L152.95,195.17 M142.65,202.18 L152.95,202.18 M142.65,209.18 L152.95,209.18 M142.65,215.94 L152.95,215.94 M142.65,222.95 L152.95,222.95 M142.65,229.71 L152.95,229.71 M142.65,236.71 L152.95,236.71 M142.65,243.47 L152.95,243.47 M142.65,250.48 L152.95,250.48 M142.65,257.48 L152.95,257.48 M142.65,264.24 L152.95,264.24 M142.65,271.25 L152.95,271.25 M142.73,279.13 L152.96,277.87 M144.39,286.47 L154.16,283.21 M147.47,293.34 L156.41,288.21 M151.66,299.25 L159.45,292.51 M157.12,304.43 L163.43,296.28 M163.51,308.42 L168.08,299.19 M170.27,311.00 L173.00,301.07 M177.70,312.11 L178.39,302.13 M184.55,311.94 L184.55,302.46 M191.30,311.75 L191.30,302.65 M198.06,311.75 L198.06,302.65 M205.06,311.75 L205.06,302.65 M211.81,311.75 L211.81,302.65 M218.82,311.75 L218.82,302.65 M225.57,311.75 L225.57,302.65 M232.32,311.75 L232.32,302.65 M239.32,311.75 L239.32,302.65 M246.08,311.75 L246.08,302.65 M252.83,311.75 L252.83,302.65 M259.83,311.75 L259.83,302.65 M266.59,311.75 L266.59,302.65 M273.59,311.75 L273.59,302.65 M280.34,311.75 L280.34,302.65 M287.09,311.75 L287.09,302.65 M294.10,311.75 L294.10,302.65 M300.85,311.75 L300.85,302.65 M307.85,311.75 L307.85,302.65 M314.61,311.75 L314.61,302.65 M321.36,311.75 L321.36,302.65 M328.36,311.75 L328.36,302.65 M335.11,311.75 L335.11,302.65 M342.12,311.75 L342.12,302.65 M348.87,311.75 L348.87,302.65 M355.62,311.75 L355.62,302.65 M362.62,311.75 L362.62,302.65 M369.38,311.75 L369.38,302.65 M376.13,311.75 L376.13,302.65 M383.13,311.75 L383.13,302.65 M389.89,311.75 L389.89,302.65 M396.89,311.75 L396.89,302.65 M403.64,311.75 L403.64,302.65 M410.39,311.75 L410.39,302.65 M417.40,311.75 L417.40,302.65 M424.15,311.75 L424.15,302.65" fill="none" stroke="#000" stroke-width="1.36"/>
<path d="M25.9,91.6 L22,96.4 Q28,102.5 35.1,106 L38.3,100.8 Q32,96.5 25.9,91.6 Z" fill="#fff" stroke="#000" stroke-width="1.8" stroke-linejoin="round"/>
<path d="M185.70,133.50 L185.70,133.75 L185.70,134.00 L185.70,134.25 L185.70,134.50 L185.70,134.75 L185.70,135.00 L185.70,135.25 L185.70,135.50 L185.70,135.75 L185.70,136.00 L185.70,136.25 L185.70,136.50 L185.70,136.75 L185.70,137.01 L185.70,137.26 L185.70,137.51 L185.70,137.76 L185.70,138.01 L185.70,138.26 L185.70,138.51 L185.70,138.76 L185.70,139.01 L185.70,139.26 L185.70,139.51 L185.70,139.76 L185.70,140.01 L185.70,140.26 L185.70,140.51 L185.70,140.76 L185.70,141.01 L185.70,141.26 L185.70,141.51 L185.70,141.76 L185.70,142.01 L185.70,142.26 L185.70,142.51 L185.70,142.76 L185.70,143.01 L185.70,143.26 L185.70,143.52 L185.70,143.77 L185.70,144.02 L185.70,144.27 L185.70,144.52 L185.70,144.77 L185.70,145.02 L185.70,145.27 L185.70,145.52 L185.70,145.77 L185.70,146.02 L185.70,146.27 L185.70,146.52 L185.70,146.77 L185.70,147.02 L185.70,147.27 L185.70,147.52 L185.70,147.77 L185.70,148.02 L185.70,148.27 L185.70,148.52 L185.70,148.77 L185.70,149.02 L185.70,149.27 L185.70,149.52 L185.70,149.77 L185.70,150.03 L185.70,150.28 L185.70,150.53 L185.70,150.78 L185.70,151.03 L185.70,151.28 L185.70,151.53 L185.70,151.78 L185.70,152.03 L185.70,152.28 L185.70,152.53 L185.70,152.78 L185.70,153.03 L185.70,153.28 L185.70,153.53 L185.70,153.78 L185.70,154.03 L185.70,154.28 L185.70,154.53 L185.70,154.78 L185.70,155.03 L185.70,155.28 L185.70,155.53 L185.70,155.78 L185.70,156.03 L185.70,156.28 L185.70,156.54 L185.70,156.79 L185.70,157.04 L185.70,157.29 L185.70,157.54 L185.70,157.79 L185.70,158.04 L185.70,158.29 L185.70,158.54 L185.70,158.79 L185.70,159.04 L185.70,159.29 L185.70,159.54 L185.70,159.79 L185.70,160.04 L185.70,160.29 L185.70,160.54 L185.70,160.79 L185.70,161.04 L185.70,161.29 L185.70,161.54 L185.70,161.79 L185.70,162.04 L185.70,162.29 L185.70,162.54 L185.70,162.79 L185.70,163.05 L185.70,163.30 L185.70,163.55 L185.70,163.80 L185.70,164.05 L185.70,164.30 L185.70,164.55 L185.70,164.80 L185.70,165.05 L185.70,165.30 L185.70,165.55 L185.70,165.80 L185.70,166.05 L185.70,166.30 L185.70,166.55 L185.70,166.80 L185.70,167.05 L185.70,167.30 L185.70,167.55 L185.70,167.80 L185.70,168.05 L185.70,168.30 L185.70,168.55 L185.70,168.80 L185.70,169.05 L185.70,169.30 L185.70,169.56 L185.70,169.81 L185.70,170.06 L185.70,170.31 L185.70,170.56 L185.70,170.81 L185.70,171.06 L185.70,171.31 L185.70,171.56 L185.70,171.81 L185.70,172.06 L185.70,172.31 L185.70,172.56 L185.70,172.81 L185.70,173.06 L185.70,173.31 L185.70,173.56 L185.70,173.81 L185.70,174.06 L185.70,174.31 L185.70,174.56 L185.70,174.81 L185.70,175.06 L185.70,175.31 L185.70,175.56 L185.70,175.81 L185.70,176.07 L185.70,176.32 L185.70,176.57 L185.70,176.82 L185.70,177.07 L185.70,177.32 L185.70,177.57 L185.70,177.82 L185.70,178.07 L185.70,178.32 L185.70,178.57 L185.70,178.82 L185.70,179.07 L185.70,179.32 L185.70,179.57 L185.70,179.82 L185.70,180.07 L185.70,180.32 L185.70,180.57 L185.70,180.82 L185.70,181.07 L185.70,181.32 L185.70,181.57 L185.70,181.82 L185.70,182.07 L185.70,182.32 L185.70,182.58 L185.70,182.83 L185.70,183.08 L185.70,183.33 L185.70,183.58 L185.70,183.83 L185.70,184.08 L185.70,184.33 L185.70,184.58 L185.70,184.83 L185.70,185.08 L185.70,185.33 L185.70,185.58 L185.70,185.83 L185.70,186.08 L185.70,186.33 L185.70,186.58 L185.70,186.83 L185.70,187.08 L185.70,187.33 L185.70,187.58 L185.70,187.83 L185.70,188.08 L185.70,188.33 L185.70,188.58 L185.70,188.83 L185.70,189.09 L185.70,189.34 L185.70,189.59 L185.70,189.84 L185.70,190.09 L185.70,190.34 L185.70,190.59 L185.70,190.84 L185.70,191.09 L185.70,191.34 L185.70,191.59 L185.70,191.84 L185.70,192.09 L185.70,192.34 L185.70,192.59 L185.70,192.84 L185.70,193.09 L185.70,193.34 L185.70,193.59 L185.70,193.84 L185.70,194.09 L185.70,194.34 L185.70,194.59 L185.70,194.84 L185.70,195.09 L185.70,195.34 L185.70,195.60 L185.70,195.85 L185.70,196.10 L185.70,196.35 L185.70,196.60 L185.70,196.85 L185.70,197.10 L185.70,197.35 L185.70,197.60 L185.70,197.85 L185.70,198.10 L185.70,198.35 L185.70,198.60 L185.70,198.85 L185.70,199.10 L185.70,199.35 L185.70,199.60 L185.70,199.85 L185.70,200.10 L185.70,200.35 L185.70,200.60 L185.70,200.85 L185.70,201.10 L185.70,201.35 L185.70,201.60 L185.70,201.85 L185.70,202.11 L185.70,202.36 L185.70,202.61 L185.70,202.86 L185.70,203.11 L185.70,203.36 L185.70,203.61 L185.70,203.86 L185.70,204.11 L185.70,204.36 L185.70,204.61 L185.70,204.86 L185.70,205.11 L185.70,205.36 L185.70,205.61 L185.70,205.86 L185.70,206.11 L185.70,206.36 L185.70,206.61 L185.70,206.86 L185.70,207.11 L185.70,207.36 L185.70,207.61 L185.70,207.86 L185.70,208.11 L185.70,208.36 L185.70,208.62 L185.70,208.87 L185.70,209.12 L185.70,209.37 L185.70,209.62 L185.70,209.87 L185.70,210.12 L185.70,210.37 L185.70,210.62 L185.70,210.87 L185.70,211.12 L185.70,211.37 L185.70,211.62 L185.70,211.87 L185.70,212.12 L185.70,212.37 L185.70,212.62 L185.70,212.87 L185.70,213.12 L185.70,213.37 L185.70,213.62 L185.70,213.87 L185.70,214.12 L185.70,214.37 L185.70,214.62 L185.70,214.87 L185.70,215.13 L185.70,215.38 L185.70,215.63 L185.70,215.88 L185.70,216.13 L185.70,216.38 L185.70,216.63 L185.70,216.88 L185.70,217.13 L185.70,217.38 L185.70,217.63 L185.70,217.88 L185.70,218.13 L185.70,218.38 L185.70,218.63 L185.70,218.88 L185.70,219.13 L185.70,219.38 L185.70,219.63 L185.70,219.88 L185.70,220.13 L185.70,220.38 L185.70,220.63 L185.70,220.88 L185.70,221.13 L185.70,221.38 L185.70,221.64 L185.70,221.89 L185.70,222.14 L185.70,222.39 L185.70,222.64 L185.70,222.89 L185.70,223.14 L185.70,223.39 L185.70,223.64 L185.70,223.89 L185.70,224.14 L185.70,224.39 L185.70,224.64 L185.70,224.89 L185.70,225.14 L185.70,225.39 L185.70,225.64 L185.70,225.89 L185.70,226.14 L185.70,226.39 L185.70,226.64 L185.70,226.89 L185.70,227.14 L185.70,227.39 L185.70,227.64 L185.70,227.89 L185.70,228.15 L185.70,228.40 L185.70,228.65 L185.70,228.90 L185.70,229.15 L185.70,229.40 L185.70,229.65 L185.70,229.90 L185.70,230.15 L185.70,230.40 L185.70,230.65 L185.70,230.90 L185.70,231.15 L185.70,231.40 L185.70,231.69 L185.70,231.98 L185.71,232.27 L185.71,232.56 L185.72,232.84 L185.73,233.13 L185.74,233.42 L185.76,233.71 L185.77,234.00 L185.79,234.29 L185.81,234.57 L185.83,234.86 L185.85,235.15 L185.87,235.44 L185.90,235.73 L185.92,236.01 L185.95,236.30 L185.98,236.59 L186.01,236.87 L186.05,237.16 L186.08,237.45 L186.12,237.73 L186.16,238.02 L186.20,238.31 L186.24,238.59 L186.29,238.88 L186.33,239.16 L186.38,239.45 L186.43,239.73 L186.48,240.02 L186.54,240.30 L186.59,240.58 L186.65,240.87 L186.70,241.15 L186.76,241.43 L186.83,241.71 L186.89,242.00 L186.95,242.28 L187.02,242.56 L187.09,242.84 L187.16,243.12 L187.23,243.40 L187.30,243.68 L187.38,243.96 L187.46,244.24 L187.53,244.51 L187.61,244.79 L187.70,245.07 L187.78,245.34 L187.86,245.62 L187.95,245.90 L188.04,246.17 L188.13,246.45 L188.22,246.72 L188.31,246.99 L188.41,247.27 L188.51,247.54 L188.60,247.81 L188.70,248.08 L188.81,248.35 L188.91,248.62 L189.01,248.89 L189.12,249.16 L189.23,249.43 L189.34,249.69 L189.45,249.96 L189.56,250.22 L189.68,250.49 L189.79,250.75 L189.91,251.02 L190.03,251.28 L190.15,251.54 L190.27,251.80 L190.40,252.07 L190.52,252.33 L190.65,252.58 L190.78,252.84 L190.91,253.10 L191.04,253.36 L191.18,253.61 L191.31,253.87 L191.45,254.12 L191.58,254.38 L191.72,254.63 L191.87,254.88 L192.01,255.13 L192.15,255.38 L192.30,255.63 L192.45,255.88 L192.59,256.13 L192.74,256.38 L192.90,256.62 L193.05,256.87 L193.20,257.11 L193.36,257.35 L193.52,257.59 L193.68,257.84 L193.84,258.08 L194.00,258.32 L194.16,258.55 L194.33,258.79 L194.49,259.03 L194.66,259.26 L194.83,259.50 L195.00,259.73 L195.17,259.96 L195.34,260.19 L195.52,260.42 L195.70,260.65 L195.87,260.88 L196.05,261.11 L196.23,261.33 L196.41,261.56 L196.60,261.78 L196.78,262.00 L196.97,262.22 L197.15,262.44 L197.34,262.66 L197.53,262.88 L197.72,263.10 L197.91,263.31 L198.11,263.53 L198.30,263.74 L198.50,263.95 L198.69,264.16 L198.89,264.37 L199.09,264.58 L199.29,264.79 L199.50,264.99 L199.70,265.20 L199.91,265.40 L200.11,265.61 L200.32,265.81 L200.53,266.01 L200.74,266.21 L200.95,266.40 L201.16,266.60 L201.37,266.79 L201.59,266.99 L201.80,267.18 L202.02,267.37 L202.24,267.56 L202.46,267.75 L202.68,267.93 L202.90,268.12 L203.12,268.30 L203.34,268.49 L203.57,268.67 L203.79,268.85 L204.02,269.03 L204.25,269.20 L204.48,269.38 L204.71,269.56 L204.94,269.73 L205.17,269.90 L205.40,270.07 L205.64,270.24 L205.87,270.41 L206.11,270.57 L206.35,270.74 L206.58,270.90 L206.82,271.06 L207.06,271.22 L207.31,271.38 L207.55,271.54 L207.79,271.70 L208.03,271.85 L208.28,272.00 L208.52,272.16 L208.77,272.31 L209.02,272.45 L209.27,272.60 L209.52,272.75 L209.77,272.89 L210.02,273.03 L210.27,273.18 L210.52,273.32 L210.78,273.45 L211.03,273.59 L211.29,273.72 L211.54,273.86 L211.80,273.99 L212.06,274.12 L212.32,274.25 L212.57,274.38 L212.83,274.50 L213.10,274.63 L213.36,274.75 L213.62,274.87 L213.88,274.99 L214.15,275.11 L214.41,275.22 L214.68,275.34 L214.94,275.45 L215.21,275.56 L215.47,275.67 L215.74,275.78 L216.01,275.89 L216.28,275.99 L216.55,276.09 L216.82,276.20 L217.09,276.30 L217.36,276.39 L217.63,276.49 L217.91,276.59 L218.18,276.68 L218.45,276.77 L218.73,276.86 L219.00,276.95 L219.28,277.04 L219.56,277.12 L219.83,277.20 L220.11,277.29 L220.39,277.37 L220.66,277.44 L220.94,277.52 L221.22,277.60 L221.50,277.67 L221.78,277.74 L222.06,277.81 L222.34,277.88 L222.62,277.95 L222.90,278.01 L223.19,278.07 L223.47,278.14 L223.75,278.20 L224.03,278.25 L224.32,278.31 L224.60,278.36 L224.88,278.42 L225.17,278.47 L225.45,278.52 L225.74,278.57 L226.02,278.61 L226.31,278.66 L226.59,278.70 L226.88,278.74 L227.17,278.78 L227.45,278.82 L227.74,278.85 L228.03,278.89 L228.31,278.92 L228.60,278.95 L228.89,278.98 L229.17,279.00 L229.46,279.03 L229.75,279.05 L230.04,279.07 L230.33,279.09 L230.61,279.11 L230.90,279.13 L231.19,279.14 L231.48,279.16 L231.77,279.17 L232.06,279.18 L232.34,279.19 L232.63,279.19 L232.92,279.20 L233.21,279.20 L233.50,279.20 L233.75,279.20 L234.00,279.20 L234.25,279.20 L234.50,279.20 L234.75,279.20 L235.00,279.20 L235.25,279.20 L235.50,279.20 L235.75,279.20 L236.00,279.20 L236.25,279.20 L236.50,279.20 L236.75,279.20 L237.00,279.20 L237.25,279.20 L237.50,279.20 L237.75,279.20 L238.00,279.20 L238.25,279.20 L238.50,279.20 L238.75,279.20 L239.00,279.20 L239.25,279.20 L239.50,279.20 L239.75,279.20 L240.01,279.20 L240.26,279.20 L240.51,279.20 L240.76,279.20 L241.01,279.20 L241.26,279.20 L241.51,279.20 L241.76,279.20 L242.01,279.20 L242.26,279.20 L242.51,279.20 L242.76,279.20 L243.01,279.20 L243.26,279.20 L243.51,279.20 L243.76,279.20 L244.01,279.20 L244.26,279.20 L244.51,279.20 L244.76,279.20 L245.01,279.20 L245.26,279.20 L245.51,279.20 L245.76,279.20 L246.01,279.20 L246.26,279.20 L246.51,279.20 L246.76,279.20 L247.01,279.20 L247.26,279.20 L247.51,279.20 L247.76,279.20 L248.01,279.20 L248.26,279.20 L248.51,279.20 L248.76,279.20 L249.01,279.20 L249.26,279.20 L249.51,279.20 L249.76,279.20 L250.01,279.20 L250.26,279.20 L250.51,279.20 L250.76,279.20 L251.01,279.20 L251.26,279.20 L251.51,279.20 L251.76,279.20 L252.01,279.20 L252.26,279.20 L252.51,279.20 L252.77,279.20 L253.02,279.20 L253.27,279.20 L253.52,279.20 L253.77,279.20 L254.02,279.20 L254.27,279.20 L254.52,279.20 L254.77,279.20 L255.02,279.20 L255.27,279.20 L255.52,279.20 L255.77,279.20 L256.02,279.20 L256.27,279.20 L256.52,279.20 L256.77,279.20 L257.02,279.20 L257.27,279.20 L257.52,279.20 L257.77,279.20 L258.02,279.20 L258.27,279.20 L258.52,279.20 L258.77,279.20 L259.02,279.20 L259.27,279.20 L259.52,279.20 L259.77,279.20 L260.02,279.20 L260.27,279.20 L260.52,279.20 L260.77,279.20 L261.02,279.20 L261.27,279.20 L261.52,279.20 L261.77,279.20 L262.02,279.20 L262.27,279.20 L262.52,279.20 L262.77,279.20 L263.02,279.20 L263.27,279.20 L263.52,279.20 L263.77,279.20 L264.02,279.20 L264.27,279.20 L264.52,279.20 L264.77,279.20 L265.02,279.20 L265.27,279.20 L265.53,279.20 L265.78,279.20 L266.03,279.20 L266.28,279.20 L266.53,279.20 L266.78,279.20 L267.03,279.20 L267.28,279.20 L267.53,279.20 L267.78,279.20 L268.03,279.20 L268.28,279.20 L268.53,279.20 L268.78,279.20 L269.03,279.20 L269.28,279.20 L269.53,279.20 L269.78,279.20 L270.03,279.20 L270.28,279.20 L270.53,279.20 L270.78,279.20 L271.03,279.20 L271.28,279.20 L271.53,279.20 L271.78,279.20 L272.03,279.20 L272.28,279.20 L272.53,279.20 L272.78,279.20 L273.03,279.20 L273.28,279.20 L273.53,279.20 L273.78,279.20 L274.03,279.20 L274.28,279.20 L274.53,279.20 L274.78,279.20 L275.03,279.20 L275.28,279.20 L275.53,279.20 L275.78,279.20 L276.03,279.20 L276.28,279.20 L276.53,279.20 L276.78,279.20 L277.03,279.20 L277.28,279.20 L277.53,279.20 L277.78,279.20 L278.03,279.20 L278.29,279.20 L278.54,279.20 L278.79,279.20 L279.04,279.20 L279.29,279.20 L279.54,279.20 L279.79,279.20 L280.04,279.20 L280.29,279.20 L280.54,279.20 L280.79,279.20 L281.04,279.20 L281.29,279.20 L281.54,279.20 L281.79,279.20 L282.04,279.20 L282.29,279.20 L282.54,279.20 L282.79,279.20 L283.04,279.20 L283.29,279.20 L283.54,279.20 L283.79,279.20 L284.04,279.20 L284.29,279.20 L284.54,279.20 L284.79,279.20 L285.04,279.20 L285.29,279.20 L285.54,279.20 L285.79,279.20 L286.04,279.20 L286.29,279.20 L286.54,279.20 L286.79,279.20 L287.04,279.20 L287.29,279.20 L287.54,279.20 L287.79,279.20 L288.04,279.20 L288.29,279.20 L288.54,279.20 L288.79,279.20 L289.04,279.20 L289.29,279.20 L289.54,279.20 L289.79,279.20 L290.04,279.20 L290.29,279.20 L290.54,279.20 L290.80,279.20 L291.05,279.20 L291.30,279.20 L291.55,279.20 L291.80,279.20 L292.05,279.20 L292.30,279.20 L292.55,279.20 L292.80,279.20 L293.05,279.20 L293.30,279.20 L293.55,279.20 L293.80,279.20 L294.05,279.20 L294.30,279.20 L294.55,279.20 L294.80,279.20 L295.05,279.20 L295.30,279.20 L295.55,279.20 L295.80,279.20 L296.05,279.20 L296.30,279.20 L296.55,279.20 L296.80,279.20 L297.05,279.20 L297.30,279.20 L297.55,279.20 L297.80,279.20 L298.05,279.20 L298.30,279.20 L298.55,279.20 L298.80,279.20 L299.05,279.20 L299.30,279.20 L299.55,279.20 L299.80,279.20 L300.05,279.20 L300.30,279.20 L300.55,279.20 L300.80,279.20 L301.05,279.20 L301.30,279.20 L301.55,279.20 L301.80,279.20 L302.05,279.20 L302.30,279.20 L302.55,279.20 L302.80,279.20 L303.05,279.20 L303.30,279.20 L303.56,279.20 L303.81,279.20 L304.06,279.20 L304.31,279.20 L304.56,279.20 L304.81,279.20 L305.06,279.20 L305.31,279.20 L305.56,279.20 L305.81,279.20 L306.06,279.20 L306.31,279.20 L306.56,279.20 L306.81,279.20 L307.06,279.20 L307.31,279.20 L307.56,279.20 L307.81,279.20 L308.06,279.20 L308.31,279.20 L308.56,279.20 L308.81,279.20 L309.06,279.20 L309.31,279.20 L309.56,279.20 L309.81,279.20 L310.06,279.20 L310.31,279.20 L310.56,279.20 L310.81,279.20 L311.06,279.20 L311.31,279.20 L311.56,279.20 L311.81,279.20 L312.06,279.20 L312.31,279.20 L312.56,279.20 L312.81,279.20 L313.06,279.20 L313.31,279.20 L313.56,279.20 L313.81,279.20 L314.06,279.20 L314.31,279.20 L314.56,279.20 L314.81,279.20 L315.06,279.20 L315.31,279.20 L315.56,279.20 L315.81,279.20 L316.06,279.20 L316.32,279.20 L316.57,279.20 L316.82,279.20 L317.07,279.20 L317.32,279.20 L317.57,279.20 L317.82,279.20 L318.07,279.20 L318.32,279.20 L318.57,279.20 L318.82,279.20 L319.07,279.20 L319.32,279.20 L319.57,279.20 L319.82,279.20 L320.07,279.20 L320.32,279.20 L320.57,279.20 L320.82,279.20 L321.07,279.20 L321.32,279.20 L321.57,279.20 L321.82,279.20 L322.07,279.20 L322.32,279.20 L322.57,279.20 L322.82,279.20 L323.07,279.20 L323.32,279.20 L323.57,279.20 L323.82,279.20 L324.07,279.20 L324.32,279.20 L324.57,279.20 L324.82,279.20 L325.07,279.20 L325.32,279.20 L325.57,279.20 L325.82,279.20 L326.07,279.20 L326.32,279.20 L326.57,279.20 L326.82,279.20 L327.07,279.20 L327.32,279.20 L327.57,279.20 L327.82,279.20 L328.07,279.20 L328.32,279.20 L328.57,279.20 L328.82,279.20 L329.08,279.20 L329.33,279.20 L329.58,279.20 L329.83,279.20 L330.08,279.20 L330.33,279.20 L330.58,279.20 L330.83,279.20 L331.08,279.20 L331.33,279.20 L331.58,279.20 L331.83,279.20 L332.08,279.20 L332.33,279.20 L332.58,279.20 L332.83,279.20 L333.08,279.20 L333.33,279.20 L333.58,279.20 L333.83,279.20 L334.08,279.20 L334.33,279.20 L334.58,279.20 L334.83,279.20 L335.08,279.20 L335.33,279.20 L335.58,279.20 L335.83,279.20 L336.08,279.20 L336.33,279.20 L336.58,279.20 L336.83,279.20 L337.08,279.20 L337.33,279.20 L337.58,279.20 L337.83,279.20 L338.08,279.20 L338.33,279.20 L338.58,279.20 L338.83,279.20 L339.08,279.20 L339.33,279.20 L339.58,279.20 L339.83,279.20 L340.08,279.20 L340.33,279.20 L340.58,279.20 L340.83,279.20 L341.08,279.20 L341.33,279.20 L341.58,279.20 L341.84,279.20 L342.09,279.20 L342.34,279.20 L342.59,279.20 L342.84,279.20 L343.09,279.20 L343.34,279.20 L343.59,279.20 L343.84,279.20 L344.09,279.20 L344.34,279.20 L344.59,279.20 L344.84,279.20 L345.09,279.20 L345.34,279.20 L345.59,279.20 L345.84,279.20 L346.09,279.20 L346.34,279.20 L346.59,279.20 L346.84,279.20 L347.09,279.20 L347.34,279.20 L347.59,279.20 L347.84,279.20 L348.09,279.20 L348.34,279.20 L348.59,279.20 L348.84,279.20 L349.09,279.20 L349.34,279.20 L349.59,279.20 L349.84,279.20 L350.09,279.20 L350.34,279.20 L350.59,279.20 L350.84,279.20 L351.09,279.20 L351.34,279.20 L351.59,279.20 L351.84,279.20 L352.09,279.20 L352.34,279.20 L352.59,279.20 L352.84,279.20 L353.09,279.20 L353.34,279.20 L353.59,279.20 L353.84,279.20 L354.09,279.20 L354.34,279.20 L354.60,279.20 L354.85,279.20 L355.10,279.20 L355.35,279.20 L355.60,279.20 L355.85,279.20 L356.10,279.20 L356.35,279.20 L356.60,279.20 L356.85,279.20 L357.10,279.20 L357.35,279.20 L357.60,279.20 L357.85,279.20 L358.10,279.20 L358.35,279.20 L358.60,279.20 L358.85,279.20 L359.10,279.20 L359.35,279.20 L359.60,279.20 L359.85,279.20 L360.10,279.20 L360.35,279.20 L360.60,279.20 L360.85,279.20 L361.10,279.20 L361.35,279.20 L361.60,279.20 L361.85,279.20 L362.10,279.20 L362.35,279.20 L362.60,279.20 L362.85,279.20 L363.10,279.20 L363.35,279.20 L363.60,279.20 L363.85,279.20 L364.10,279.20 L364.35,279.20 L364.60,279.20 L364.85,279.20 L365.10,279.20 L365.35,279.20 L365.60,279.20 L365.85,279.20 L366.10,279.20 L366.35,279.20 L366.60,279.20 L366.85,279.20 L367.10,279.20 L367.36,279.20 L367.61,279.20 L367.86,279.20 L368.11,279.20 L368.36,279.20 L368.61,279.20 L368.86,279.20 L369.11,279.20 L369.36,279.20 L369.61,279.20 L369.86,279.20 L370.11,279.20 L370.36,279.20 L370.61,279.20 L370.86,279.20 L371.11,279.20 L371.36,279.20 L371.61,279.20 L371.86,279.20 L372.11,279.20 L372.36,279.20 L372.61,279.20 L372.86,279.20 L373.11,279.20 L373.36,279.20 L373.61,279.20 L373.86,279.20 L374.11,279.20 L374.36,279.20 L374.61,279.20 L374.86,279.20 L375.11,279.20 L375.36,279.20 L375.61,279.20 L375.86,279.20 L376.11,279.20 L376.36,279.20 L376.61,279.20 L376.86,279.20 L377.11,279.20 L377.36,279.20 L377.61,279.20 L377.86,279.20 L378.11,279.20 L378.36,279.20 L378.61,279.20 L378.86,279.20 L379.11,279.20 L379.36,279.20 L379.61,279.20 L379.87,279.20 L380.12,279.20 L380.37,279.20 L380.62,279.20 L380.87,279.20 L381.12,279.20 L381.37,279.20 L381.62,279.20 L381.87,279.20 L382.12,279.20 L382.37,279.20 L382.62,279.20 L382.87,279.20 L383.12,279.20 L383.37,279.20 L383.62,279.20 L383.87,279.20 L384.12,279.20 L384.37,279.20 L384.62,279.20 L384.87,279.20 L385.12,279.20 L385.37,279.20 L385.62,279.20 L385.87,279.20 L386.12,279.20 L386.37,279.20 L386.62,279.20 L386.87,279.20 L387.12,279.20 L387.37,279.20 L387.62,279.20 L387.87,279.20 L388.12,279.20 L388.37,279.20 L388.62,279.20 L388.87,279.20 L389.12,279.20 L389.37,279.20 L389.62,279.20 L389.87,279.20 L390.12,279.20 L390.37,279.20 L390.62,279.20 L390.87,279.20 L391.12,279.20 L391.37,279.20 L391.62,279.20 L391.87,279.20 L392.12,279.20 L392.37,279.20 L392.63,279.20 L392.88,279.20 L393.13,279.20 L393.38,279.20 L393.63,279.20 L393.88,279.20 L394.13,279.20 L394.38,279.20 L394.63,279.20 L394.88,279.20 L395.13,279.20 L395.38,279.20 L395.63,279.20 L395.88,279.20 L396.13,279.20 L396.38,279.20 L396.63,279.20 L396.88,279.20 L397.13,279.20 L397.38,279.20 L397.63,279.20 L397.88,279.20 L398.13,279.20 L398.38,279.20 L398.63,279.20 L398.88,279.20 L399.13,279.20 L399.38,279.20 L399.63,279.20 L399.88,279.20 L400.13,279.20 L400.38,279.20 L400.63,279.20 L400.88,279.20 L401.13,279.20 L401.38,279.20 L401.63,279.20 L401.88,279.20 L402.13,279.20 L402.38,279.20 L402.63,279.20 L402.88,279.20 L403.13,279.20 L403.38,279.20 L403.63,279.20 L403.88,279.20 L404.13,279.20 L404.38,279.20 L404.63,279.20 L404.88,279.20 L405.13,279.20 L405.39,279.20 L405.64,279.20 L405.89,279.20 L406.14,279.20 L406.39,279.20 L406.64,279.20 L406.89,279.20 L407.14,279.20 L407.39,279.20 L407.64,279.20 L407.89,279.20 L408.14,279.20 L408.39,279.20 L408.64,279.20 L408.89,279.20 L409.14,279.20 L409.39,279.20 L409.64,279.20 L409.89,279.20 L410.14,279.20 L410.39,279.20 L410.64,279.20 L410.89,279.20 L411.14,279.20 L411.39,279.20 L411.64,279.20 L411.89,279.20 L412.14,279.20 L412.39,279.20 L412.64,279.20 L412.89,279.20 L413.14,279.20 L413.39,279.20 L413.64,279.20 L413.89,279.20 L414.14,279.20 L414.39,279.20 L414.64,279.20 L414.89,279.20 L415.14,279.20 L415.39,279.20 L415.64,279.20 L415.89,279.20 L416.14,279.20 L416.39,279.20 L416.64,279.20 L416.89,279.20 L417.14,279.20 L417.39,279.20 L417.64,279.20 L417.89,279.20 L418.15,279.20 L418.40,279.20 L418.65,279.20 L418.90,279.20 L419.15,279.20 L419.40,279.20 L419.65,279.20 L419.90,279.20 L420.15,279.20 L420.40,279.20 L420.65,279.20 L420.90,279.20 L421.15,279.20 L421.40,279.20 L421.65,279.20 L421.90,279.20 L422.15,279.20 L422.40,279.20 L422.65,279.20 L422.90,279.20 L423.15,279.20 L423.40,279.20 L423.65,279.20 L423.90,279.20 L424.15,279.20 L424.40,279.20 M198.30,133.50 L198.30,133.75 L198.30,134.00 L198.30,134.25 L198.30,134.50 L198.30,134.75 L198.30,135.00 L198.30,135.25 L198.30,135.50 L198.30,135.75 L198.30,136.00 L198.30,136.25 L198.30,136.50 L198.30,136.75 L198.30,137.01 L198.30,137.26 L198.30,137.51 L198.30,137.76 L198.30,138.01 L198.30,138.26 L198.30,138.51 L198.30,138.76 L198.30,139.01 L198.30,139.26 L198.30,139.51 L198.30,139.76 L198.30,140.01 L198.30,140.26 L198.30,140.51 L198.30,140.76 L198.30,141.01 L198.30,141.26 L198.30,141.51 L198.30,141.76 L198.30,142.01 L198.30,142.26 L198.30,142.51 L198.30,142.76 L198.30,143.01 L198.30,143.26 L198.30,143.52 L198.30,143.77 L198.30,144.02 L198.30,144.27 L198.30,144.52 L198.30,144.77 L198.30,145.02 L198.30,145.27 L198.30,145.52 L198.30,145.77 L198.30,146.02 L198.30,146.27 L198.30,146.52 L198.30,146.77 L198.30,147.02 L198.30,147.27 L198.30,147.52 L198.30,147.77 L198.30,148.02 L198.30,148.27 L198.30,148.52 L198.30,148.77 L198.30,149.02 L198.30,149.27 L198.30,149.52 L198.30,149.77 L198.30,150.03 L198.30,150.28 L198.30,150.53 L198.30,150.78 L198.30,151.03 L198.30,151.28 L198.30,151.53 L198.30,151.78 L198.30,152.03 L198.30,152.28 L198.30,152.53 L198.30,152.78 L198.30,153.03 L198.30,153.28 L198.30,153.53 L198.30,153.78 L198.30,154.03 L198.30,154.28 L198.30,154.53 L198.30,154.78 L198.30,155.03 L198.30,155.28 L198.30,155.53 L198.30,155.78 L198.30,156.03 L198.30,156.28 L198.30,156.54 L198.30,156.79 L198.30,157.04 L198.30,157.29 L198.30,157.54 L198.30,157.79 L198.30,158.04 L198.30,158.29 L198.30,158.54 L198.30,158.79 L198.30,159.04 L198.30,159.29 L198.30,159.54 L198.30,159.79 L198.30,160.04 L198.30,160.29 L198.30,160.54 L198.30,160.79 L198.30,161.04 L198.30,161.29 L198.30,161.54 L198.30,161.79 L198.30,162.04 L198.30,162.29 L198.30,162.54 L198.30,162.79 L198.30,163.05 L198.30,163.30 L198.30,163.55 L198.30,163.80 L198.30,164.05 L198.30,164.30 L198.30,164.55 L198.30,164.80 L198.30,165.05 L198.30,165.30 L198.30,165.55 L198.30,165.80 L198.30,166.05 L198.30,166.30 L198.30,166.55 L198.30,166.80 L198.30,167.05 L198.30,167.30 L198.30,167.55 L198.30,167.80 L198.30,168.05 L198.30,168.30 L198.30,168.55 L198.30,168.80 L198.30,169.05 L198.30,169.30 L198.30,169.56 L198.30,169.81 L198.30,170.06 L198.30,170.31 L198.30,170.56 L198.30,170.81 L198.30,171.06 L198.30,171.31 L198.30,171.56 L198.30,171.81 L198.30,172.06 L198.30,172.31 L198.30,172.56 L198.30,172.81 L198.30,173.06 L198.30,173.31 L198.30,173.56 L198.30,173.81 L198.30,174.06 L198.30,174.31 L198.30,174.56 L198.30,174.81 L198.30,175.06 L198.30,175.31 L198.30,175.56 L198.30,175.81 L198.30,176.07 L198.30,176.32 L198.30,176.57 L198.30,176.82 L198.30,177.07 L198.30,177.32 L198.30,177.57 L198.30,177.82 L198.30,178.07 L198.30,178.32 L198.30,178.57 L198.30,178.82 L198.30,179.07 L198.30,179.32 L198.30,179.57 L198.30,179.82 L198.30,180.07 L198.30,180.32 L198.30,180.57 L198.30,180.82 L198.30,181.07 L198.30,181.32 L198.30,181.57 L198.30,181.82 L198.30,182.07 L198.30,182.32 L198.30,182.58 L198.30,182.83 L198.30,183.08 L198.30,183.33 L198.30,183.58 L198.30,183.83 L198.30,184.08 L198.30,184.33 L198.30,184.58 L198.30,184.83 L198.30,185.08 L198.30,185.33 L198.30,185.58 L198.30,185.83 L198.30,186.08 L198.30,186.33 L198.30,186.58 L198.30,186.83 L198.30,187.08 L198.30,187.33 L198.30,187.58 L198.30,187.83 L198.30,188.08 L198.30,188.33 L198.30,188.58 L198.30,188.83 L198.30,189.09 L198.30,189.34 L198.30,189.59 L198.30,189.84 L198.30,190.09 L198.30,190.34 L198.30,190.59 L198.30,190.84 L198.30,191.09 L198.30,191.34 L198.30,191.59 L198.30,191.84 L198.30,192.09 L198.30,192.34 L198.30,192.59 L198.30,192.84 L198.30,193.09 L198.30,193.34 L198.30,193.59 L198.30,193.84 L198.30,194.09 L198.30,194.34 L198.30,194.59 L198.30,194.84 L198.30,195.09 L198.30,195.34 L198.30,195.60 L198.30,195.85 L198.30,196.10 L198.30,196.35 L198.30,196.60 L198.30,196.85 L198.30,197.10 L198.30,197.35 L198.30,197.60 L198.30,197.85 L198.30,198.10 L198.30,198.35 L198.30,198.60 L198.30,198.85 L198.30,199.10 L198.30,199.35 L198.30,199.60 L198.30,199.85 L198.30,200.10 L198.30,200.35 L198.30,200.60 L198.30,200.85 L198.30,201.10 L198.30,201.35 L198.30,201.60 L198.30,201.85 L198.30,202.11 L198.30,202.36 L198.30,202.61 L198.30,202.86 L198.30,203.11 L198.30,203.36 L198.30,203.61 L198.30,203.86 L198.30,204.11 L198.30,204.36 L198.30,204.61 L198.30,204.86 L198.30,205.11 L198.30,205.36 L198.30,205.61 L198.30,205.86 L198.30,206.11 L198.30,206.36 L198.30,206.61 L198.30,206.86 L198.30,207.11 L198.30,207.36 L198.30,207.61 L198.30,207.86 L198.30,208.11 L198.30,208.36 L198.30,208.62 L198.30,208.87 L198.30,209.12 L198.30,209.37 L198.30,209.62 L198.30,209.87 L198.30,210.12 L198.30,210.37 L198.30,210.62 L198.30,210.87 L198.30,211.12 L198.30,211.37 L198.30,211.62 L198.30,211.87 L198.30,212.12 L198.30,212.37 L198.30,212.62 L198.30,212.87 L198.30,213.12 L198.30,213.37 L198.30,213.62 L198.30,213.87 L198.30,214.12 L198.30,214.37 L198.30,214.62 L198.30,214.87 L198.30,215.13 L198.30,215.38 L198.30,215.63 L198.30,215.88 L198.30,216.13 L198.30,216.38 L198.30,216.63 L198.30,216.88 L198.30,217.13 L198.30,217.38 L198.30,217.63 L198.30,217.88 L198.30,218.13 L198.30,218.38 L198.30,218.63 L198.30,218.88 L198.30,219.13 L198.30,219.38 L198.30,219.63 L198.30,219.88 L198.30,220.13 L198.30,220.38 L198.30,220.63 L198.30,220.88 L198.30,221.13 L198.30,221.38 L198.30,221.64 L198.30,221.89 L198.30,222.14 L198.30,222.39 L198.30,222.64 L198.30,222.89 L198.30,223.14 L198.30,223.39 L198.30,223.64 L198.30,223.89 L198.30,224.14 L198.30,224.39 L198.30,224.64 L198.30,224.89 L198.30,225.14 L198.30,225.39 L198.30,225.64 L198.30,225.89 L198.30,226.14 L198.30,226.39 L198.30,226.64 L198.30,226.89 L198.30,227.14 L198.30,227.39 L198.30,227.64 L198.30,227.89 L198.30,228.15 L198.30,228.40 L198.30,228.65 L198.30,228.90 L198.30,229.15 L198.30,229.40 L198.30,229.65 L198.30,229.90 L198.30,230.15 L198.30,230.40 L198.30,230.65 L198.30,230.90 L198.30,231.15 L198.30,231.40 L198.30,231.61 L198.30,231.83 L198.31,232.04 L198.31,232.25 L198.32,232.46 L198.32,232.68 L198.33,232.89 L198.34,233.10 L198.35,233.31 L198.36,233.53 L198.38,233.74 L198.39,233.95 L198.41,234.16 L198.43,234.37 L198.44,234.59 L198.46,234.80 L198.49,235.01 L198.51,235.22 L198.53,235.43 L198.56,235.64 L198.58,235.85 L198.61,236.06 L198.64,236.28 L198.67,236.49 L198.70,236.70 L198.73,236.91 L198.77,237.12 L198.80,237.33 L198.84,237.54 L198.88,237.74 L198.92,237.95 L198.96,238.16 L199.00,238.37 L199.04,238.58 L199.08,238.79 L199.13,239.00 L199.18,239.20 L199.22,239.41 L199.27,239.62 L199.32,239.82 L199.37,240.03 L199.43,240.24 L199.48,240.44 L199.54,240.65 L199.59,240.85 L199.65,241.06 L199.71,241.26 L199.77,241.47 L199.83,241.67 L199.89,241.87 L199.96,242.07 L200.02,242.28 L200.09,242.48 L200.16,242.68 L200.23,242.88 L200.30,243.08 L200.37,243.28 L200.44,243.48 L200.51,243.68 L200.59,243.88 L200.66,244.08 L200.74,244.28 L200.82,244.48 L200.90,244.67 L200.98,244.87 L201.06,245.07 L201.14,245.26 L201.23,245.46 L201.31,245.65 L201.40,245.85 L201.49,246.04 L201.58,246.23 L201.67,246.43 L201.76,246.62 L201.85,246.81 L201.95,247.00 L202.04,247.19 L202.14,247.38 L202.23,247.57 L202.33,247.76 L202.43,247.95 L202.53,248.13 L202.63,248.32 L202.74,248.51 L202.84,248.69 L202.95,248.88 L203.05,249.06 L203.16,249.24 L203.27,249.43 L203.38,249.61 L203.49,249.79 L203.60,249.97 L203.71,250.15 L203.83,250.33 L203.94,250.51 L204.06,250.69 L204.17,250.87 L204.29,251.04 L204.41,251.22 L204.53,251.40 L204.65,251.57 L204.77,251.74 L204.90,251.92 L205.02,252.09 L205.15,252.26 L205.27,252.43 L205.40,252.60 L205.53,252.77 L205.66,252.94 L205.79,253.11 L205.92,253.28 L206.06,253.44 L206.19,253.61 L206.32,253.77 L206.46,253.94 L206.60,254.10 L206.73,254.26 L206.87,254.42 L207.01,254.58 L207.15,254.74 L207.29,254.90 L207.44,255.06 L207.58,255.22 L207.72,255.37 L207.87,255.53 L208.02,255.68 L208.16,255.83 L208.31,255.99 L208.46,256.14 L208.61,256.29 L208.76,256.44 L208.91,256.59 L209.07,256.74 L209.22,256.88 L209.37,257.03 L209.53,257.18 L209.68,257.32 L209.84,257.46 L210.00,257.61 L210.16,257.75 L210.32,257.89 L210.48,258.03 L210.64,258.17 L210.80,258.30 L210.96,258.44 L211.13,258.58 L211.29,258.71 L211.46,258.84 L211.62,258.98 L211.79,259.11 L211.96,259.24 L212.13,259.37 L212.30,259.50 L212.47,259.63 L212.64,259.75 L212.81,259.88 L212.98,260.00 L213.16,260.13 L213.33,260.25 L213.50,260.37 L213.68,260.49 L213.86,260.61 L214.03,260.73 L214.21,260.84 L214.39,260.96 L214.57,261.07 L214.75,261.19 L214.93,261.30 L215.11,261.41 L215.29,261.52 L215.47,261.63 L215.66,261.74 L215.84,261.85 L216.02,261.95 L216.21,262.06 L216.39,262.16 L216.58,262.27 L216.77,262.37 L216.95,262.47 L217.14,262.57 L217.33,262.67 L217.52,262.76 L217.71,262.86 L217.90,262.95 L218.09,263.05 L218.28,263.14 L218.47,263.23 L218.67,263.32 L218.86,263.41 L219.05,263.50 L219.25,263.59 L219.44,263.67 L219.64,263.76 L219.83,263.84 L220.03,263.92 L220.23,264.00 L220.42,264.08 L220.62,264.16 L220.82,264.24 L221.02,264.31 L221.22,264.39 L221.42,264.46 L221.62,264.53 L221.82,264.60 L222.02,264.67 L222.22,264.74 L222.42,264.81 L222.62,264.88 L222.83,264.94 L223.03,265.01 L223.23,265.07 L223.43,265.13 L223.64,265.19 L223.84,265.25 L224.05,265.31 L224.25,265.36 L224.46,265.42 L224.66,265.47 L224.87,265.53 L225.08,265.58 L225.28,265.63 L225.49,265.68 L225.70,265.72 L225.90,265.77 L226.11,265.82 L226.32,265.86 L226.53,265.90 L226.74,265.94 L226.95,265.98 L227.16,266.02 L227.36,266.06 L227.57,266.10 L227.78,266.13 L227.99,266.17 L228.20,266.20 L228.41,266.23 L228.62,266.26 L228.84,266.29 L229.05,266.32 L229.26,266.34 L229.47,266.37 L229.68,266.39 L229.89,266.41 L230.10,266.44 L230.31,266.46 L230.53,266.47 L230.74,266.49 L230.95,266.51 L231.16,266.52 L231.37,266.54 L231.59,266.55 L231.80,266.56 L232.01,266.57 L232.22,266.58 L232.44,266.58 L232.65,266.59 L232.86,266.59 L233.07,266.60 L233.29,266.60 L233.50,266.60 L233.75,266.60 L234.00,266.60 L234.25,266.60 L234.50,266.60 L234.75,266.60 L235.00,266.60 L235.25,266.60 L235.50,266.60 L235.75,266.60 L236.00,266.60 L236.25,266.60 L236.50,266.60 L236.75,266.60 L237.00,266.60 L237.25,266.60 L237.50,266.60 L237.75,266.60 L238.00,266.60 L238.25,266.60 L238.50,266.60 L238.75,266.60 L239.00,266.60 L239.25,266.60 L239.50,266.60 L239.75,266.60 L240.01,266.60 L240.26,266.60 L240.51,266.60 L240.76,266.60 L241.01,266.60 L241.26,266.60 L241.51,266.60 L241.76,266.60 L242.01,266.60 L242.26,266.60 L242.51,266.60 L242.76,266.60 L243.01,266.60 L243.26,266.60 L243.51,266.60 L243.76,266.60 L244.01,266.60 L244.26,266.60 L244.51,266.60 L244.76,266.60 L245.01,266.60 L245.26,266.60 L245.51,266.60 L245.76,266.60 L246.01,266.60 L246.26,266.60 L246.51,266.60 L246.76,266.60 L247.01,266.60 L247.26,266.60 L247.51,266.60 L247.76,266.60 L248.01,266.60 L248.26,266.60 L248.51,266.60 L248.76,266.60 L249.01,266.60 L249.26,266.60 L249.51,266.60 L249.76,266.60 L250.01,266.60 L250.26,266.60 L250.51,266.60 L250.76,266.60 L251.01,266.60 L251.26,266.60 L251.51,266.60 L251.76,266.60 L252.01,266.60 L252.26,266.60 L252.51,266.60 L252.77,266.60 L253.02,266.60 L253.27,266.60 L253.52,266.60 L253.77,266.60 L254.02,266.60 L254.27,266.60 L254.52,266.60 L254.77,266.60 L255.02,266.60 L255.27,266.60 L255.52,266.60 L255.77,266.60 L256.02,266.60 L256.27,266.60 L256.52,266.60 L256.77,266.60 L257.02,266.60 L257.27,266.60 L257.52,266.60 L257.77,266.60 L258.02,266.60 L258.27,266.60 L258.52,266.60 L258.77,266.60 L259.02,266.60 L259.27,266.60 L259.52,266.60 L259.77,266.60 L260.02,266.60 L260.27,266.60 L260.52,266.60 L260.77,266.60 L261.02,266.60 L261.27,266.60 L261.52,266.60 L261.77,266.60 L262.02,266.60 L262.27,266.60 L262.52,266.60 L262.77,266.60 L263.02,266.60 L263.27,266.60 L263.52,266.60 L263.77,266.60 L264.02,266.60 L264.27,266.60 L264.52,266.60 L264.77,266.60 L265.02,266.60 L265.27,266.60 L265.53,266.60 L265.78,266.60 L266.03,266.60 L266.28,266.60 L266.53,266.60 L266.78,266.60 L267.03,266.60 L267.28,266.60 L267.53,266.60 L267.78,266.60 L268.03,266.60 L268.28,266.60 L268.53,266.60 L268.78,266.60 L269.03,266.60 L269.28,266.60 L269.53,266.60 L269.78,266.60 L270.03,266.60 L270.28,266.60 L270.53,266.60 L270.78,266.60 L271.03,266.60 L271.28,266.60 L271.53,266.60 L271.78,266.60 L272.03,266.60 L272.28,266.60 L272.53,266.60 L272.78,266.60 L273.03,266.60 L273.28,266.60 L273.53,266.60 L273.78,266.60 L274.03,266.60 L274.28,266.60 L274.53,266.60 L274.78,266.60 L275.03,266.60 L275.28,266.60 L275.53,266.60 L275.78,266.60 L276.03,266.60 L276.28,266.60 L276.53,266.60 L276.78,266.60 L277.03,266.60 L277.28,266.60 L277.53,266.60 L277.78,266.60 L278.03,266.60 L278.29,266.60 L278.54,266.60 L278.79,266.60 L279.04,266.60 L279.29,266.60 L279.54,266.60 L279.79,266.60 L280.04,266.60 L280.29,266.60 L280.54,266.60 L280.79,266.60 L281.04,266.60 L281.29,266.60 L281.54,266.60 L281.79,266.60 L282.04,266.60 L282.29,266.60 L282.54,266.60 L282.79,266.60 L283.04,266.60 L283.29,266.60 L283.54,266.60 L283.79,266.60 L284.04,266.60 L284.29,266.60 L284.54,266.60 L284.79,266.60 L285.04,266.60 L285.29,266.60 L285.54,266.60 L285.79,266.60 L286.04,266.60 L286.29,266.60 L286.54,266.60 L286.79,266.60 L287.04,266.60 L287.29,266.60 L287.54,266.60 L287.79,266.60 L288.04,266.60 L288.29,266.60 L288.54,266.60 L288.79,266.60 L289.04,266.60 L289.29,266.60 L289.54,266.60 L289.79,266.60 L290.04,266.60 L290.29,266.60 L290.54,266.60 L290.80,266.60 L291.05,266.60 L291.30,266.60 L291.55,266.60 L291.80,266.60 L292.05,266.60 L292.30,266.60 L292.55,266.60 L292.80,266.60 L293.05,266.60 L293.30,266.60 L293.55,266.60 L293.80,266.60 L294.05,266.60 L294.30,266.60 L294.55,266.60 L294.80,266.60 L295.05,266.60 L295.30,266.60 L295.55,266.60 L295.80,266.60 L296.05,266.60 L296.30,266.60 L296.55,266.60 L296.80,266.60 L297.05,266.60 L297.30,266.60 L297.55,266.60 L297.80,266.60 L298.05,266.60 L298.30,266.60 L298.55,266.60 L298.80,266.60 L299.05,266.60 L299.30,266.60 L299.55,266.60 L299.80,266.60 L300.05,266.60 L300.30,266.60 L300.55,266.60 L300.80,266.60 L301.05,266.60 L301.30,266.60 L301.55,266.60 L301.80,266.60 L302.05,266.60 L302.30,266.60 L302.55,266.60 L302.80,266.60 L303.05,266.60 L303.30,266.60 L303.56,266.60 L303.81,266.60 L304.06,266.60 L304.31,266.60 L304.56,266.60 L304.81,266.60 L305.06,266.60 L305.31,266.60 L305.56,266.60 L305.81,266.60 L306.06,266.60 L306.31,266.60 L306.56,266.60 L306.81,266.60 L307.06,266.60 L307.31,266.60 L307.56,266.60 L307.81,266.60 L308.06,266.60 L308.31,266.60 L308.56,266.60 L308.81,266.60 L309.06,266.60 L309.31,266.60 L309.56,266.60 L309.81,266.60 L310.06,266.60 L310.31,266.60 L310.56,266.60 L310.81,266.60 L311.06,266.60 L311.31,266.60 L311.56,266.60 L311.81,266.60 L312.06,266.60 L312.31,266.60 L312.56,266.60 L312.81,266.60 L313.06,266.60 L313.31,266.60 L313.56,266.60 L313.81,266.60 L314.06,266.60 L314.31,266.60 L314.56,266.60 L314.81,266.60 L315.06,266.60 L315.31,266.60 L315.56,266.60 L315.81,266.60 L316.06,266.60 L316.32,266.60 L316.57,266.60 L316.82,266.60 L317.07,266.60 L317.32,266.60 L317.57,266.60 L317.82,266.60 L318.07,266.60 L318.32,266.60 L318.57,266.60 L318.82,266.60 L319.07,266.60 L319.32,266.60 L319.57,266.60 L319.82,266.60 L320.07,266.60 L320.32,266.60 L320.57,266.60 L320.82,266.60 L321.07,266.60 L321.32,266.60 L321.57,266.60 L321.82,266.60 L322.07,266.60 L322.32,266.60 L322.57,266.60 L322.82,266.60 L323.07,266.60 L323.32,266.60 L323.57,266.60 L323.82,266.60 L324.07,266.60 L324.32,266.60 L324.57,266.60 L324.82,266.60 L325.07,266.60 L325.32,266.60 L325.57,266.60 L325.82,266.60 L326.07,266.60 L326.32,266.60 L326.57,266.60 L326.82,266.60 L327.07,266.60 L327.32,266.60 L327.57,266.60 L327.82,266.60 L328.07,266.60 L328.32,266.60 L328.57,266.60 L328.82,266.60 L329.08,266.60 L329.33,266.60 L329.58,266.60 L329.83,266.60 L330.08,266.60 L330.33,266.60 L330.58,266.60 L330.83,266.60 L331.08,266.60 L331.33,266.60 L331.58,266.60 L331.83,266.60 L332.08,266.60 L332.33,266.60 L332.58,266.60 L332.83,266.60 L333.08,266.60 L333.33,266.60 L333.58,266.60 L333.83,266.60 L334.08,266.60 L334.33,266.60 L334.58,266.60 L334.83,266.60 L335.08,266.60 L335.33,266.60 L335.58,266.60 L335.83,266.60 L336.08,266.60 L336.33,266.60 L336.58,266.60 L336.83,266.60 L337.08,266.60 L337.33,266.60 L337.58,266.60 L337.83,266.60 L338.08,266.60 L338.33,266.60 L338.58,266.60 L338.83,266.60 L339.08,266.60 L339.33,266.60 L339.58,266.60 L339.83,266.60 L340.08,266.60 L340.33,266.60 L340.58,266.60 L340.83,266.60 L341.08,266.60 L341.33,266.60 L341.58,266.60 L341.84,266.60 L342.09,266.60 L342.34,266.60 L342.59,266.60 L342.84,266.60 L343.09,266.60 L343.34,266.60 L343.59,266.60 L343.84,266.60 L344.09,266.60 L344.34,266.60 L344.59,266.60 L344.84,266.60 L345.09,266.60 L345.34,266.60 L345.59,266.60 L345.84,266.60 L346.09,266.60 L346.34,266.60 L346.59,266.60 L346.84,266.60 L347.09,266.60 L347.34,266.60 L347.59,266.60 L347.84,266.60 L348.09,266.60 L348.34,266.60 L348.59,266.60 L348.84,266.60 L349.09,266.60 L349.34,266.60 L349.59,266.60 L349.84,266.60 L350.09,266.60 L350.34,266.60 L350.59,266.60 L350.84,266.60 L351.09,266.60 L351.34,266.60 L351.59,266.60 L351.84,266.60 L352.09,266.60 L352.34,266.60 L352.59,266.60 L352.84,266.60 L353.09,266.60 L353.34,266.60 L353.59,266.60 L353.84,266.60 L354.09,266.60 L354.34,266.60 L354.60,266.60 L354.85,266.60 L355.10,266.60 L355.35,266.60 L355.60,266.60 L355.85,266.60 L356.10,266.60 L356.35,266.60 L356.60,266.60 L356.85,266.60 L357.10,266.60 L357.35,266.60 L357.60,266.60 L357.85,266.60 L358.10,266.60 L358.35,266.60 L358.60,266.60 L358.85,266.60 L359.10,266.60 L359.35,266.60 L359.60,266.60 L359.85,266.60 L360.10,266.60 L360.35,266.60 L360.60,266.60 L360.85,266.60 L361.10,266.60 L361.35,266.60 L361.60,266.60 L361.85,266.60 L362.10,266.60 L362.35,266.60 L362.60,266.60 L362.85,266.60 L363.10,266.60 L363.35,266.60 L363.60,266.60 L363.85,266.60 L364.10,266.60 L364.35,266.60 L364.60,266.60 L364.85,266.60 L365.10,266.60 L365.35,266.60 L365.60,266.60 L365.85,266.60 L366.10,266.60 L366.35,266.60 L366.60,266.60 L366.85,266.60 L367.10,266.60 L367.36,266.60 L367.61,266.60 L367.86,266.60 L368.11,266.60 L368.36,266.60 L368.61,266.60 L368.86,266.60 L369.11,266.60 L369.36,266.60 L369.61,266.60 L369.86,266.60 L370.11,266.60 L370.36,266.60 L370.61,266.60 L370.86,266.60 L371.11,266.60 L371.36,266.60 L371.61,266.60 L371.86,266.60 L372.11,266.60 L372.36,266.60 L372.61,266.60 L372.86,266.60 L373.11,266.60 L373.36,266.60 L373.61,266.60 L373.86,266.60 L374.11,266.60 L374.36,266.60 L374.61,266.60 L374.86,266.60 L375.11,266.60 L375.36,266.60 L375.61,266.60 L375.86,266.60 L376.11,266.60 L376.36,266.60 L376.61,266.60 L376.86,266.60 L377.11,266.60 L377.36,266.60 L377.61,266.60 L377.86,266.60 L378.11,266.60 L378.36,266.60 L378.61,266.60 L378.86,266.60 L379.11,266.60 L379.36,266.60 L379.61,266.60 L379.87,266.60 L380.12,266.60 L380.37,266.60 L380.62,266.60 L380.87,266.60 L381.12,266.60 L381.37,266.60 L381.62,266.60 L381.87,266.60 L382.12,266.60 L382.37,266.60 L382.62,266.60 L382.87,266.60 L383.12,266.60 L383.37,266.60 L383.62,266.60 L383.87,266.60 L384.12,266.60 L384.37,266.60 L384.62,266.60 L384.87,266.60 L385.12,266.60 L385.37,266.60 L385.62,266.60 L385.87,266.60 L386.12,266.60 L386.37,266.60 L386.62,266.60 L386.87,266.60 L387.12,266.60 L387.37,266.60 L387.62,266.60 L387.87,266.60 L388.12,266.60 L388.37,266.60 L388.62,266.60 L388.87,266.60 L389.12,266.60 L389.37,266.60 L389.62,266.60 L389.87,266.60 L390.12,266.60 L390.37,266.60 L390.62,266.60 L390.87,266.60 L391.12,266.60 L391.37,266.60 L391.62,266.60 L391.87,266.60 L392.12,266.60 L392.37,266.60 L392.63,266.60 L392.88,266.60 L393.13,266.60 L393.38,266.60 L393.63,266.60 L393.88,266.60 L394.13,266.60 L394.38,266.60 L394.63,266.60 L394.88,266.60 L395.13,266.60 L395.38,266.60 L395.63,266.60 L395.88,266.60 L396.13,266.60 L396.38,266.60 L396.63,266.60 L396.88,266.60 L397.13,266.60 L397.38,266.60 L397.63,266.60 L397.88,266.60 L398.13,266.60 L398.38,266.60 L398.63,266.60 L398.88,266.60 L399.13,266.60 L399.38,266.60 L399.63,266.60 L399.88,266.60 L400.13,266.60 L400.38,266.60 L400.63,266.60 L400.88,266.60 L401.13,266.60 L401.38,266.60 L401.63,266.60 L401.88,266.60 L402.13,266.60 L402.38,266.60 L402.63,266.60 L402.88,266.60 L403.13,266.60 L403.38,266.60 L403.63,266.60 L403.88,266.60 L404.13,266.60 L404.38,266.60 L404.63,266.60 L404.88,266.60 L405.13,266.60 L405.39,266.60 L405.64,266.60 L405.89,266.60 L406.14,266.60 L406.39,266.60 L406.64,266.60 L406.89,266.60 L407.14,266.60 L407.39,266.60 L407.64,266.60 L407.89,266.60 L408.14,266.60 L408.39,266.60 L408.64,266.60 L408.89,266.60 L409.14,266.60 L409.39,266.60 L409.64,266.60 L409.89,266.60 L410.14,266.60 L410.39,266.60 L410.64,266.60 L410.89,266.60 L411.14,266.60 L411.39,266.60 L411.64,266.60 L411.89,266.60 L412.14,266.60 L412.39,266.60 L412.64,266.60 L412.89,266.60 L413.14,266.60 L413.39,266.60 L413.64,266.60 L413.89,266.60 L414.14,266.60 L414.39,266.60 L414.64,266.60 L414.89,266.60 L415.14,266.60 L415.39,266.60 L415.64,266.60 L415.89,266.60 L416.14,266.60 L416.39,266.60 L416.64,266.60 L416.89,266.60 L417.14,266.60 L417.39,266.60 L417.64,266.60 L417.89,266.60 L418.15,266.60 L418.40,266.60 L418.65,266.60 L418.90,266.60 L419.15,266.60 L419.40,266.60 L419.65,266.60 L419.90,266.60 L420.15,266.60 L420.40,266.60 L420.65,266.60 L420.90,266.60 L421.15,266.60 L421.40,266.60 L421.65,266.60 L421.90,266.60 L422.15,266.60 L422.40,266.60 L422.65,266.60 L422.90,266.60 L423.15,266.60 L423.40,266.60 L423.65,266.60 L423.90,266.60 L424.15,266.60 L424.40,266.60" fill="none" stroke="#000" stroke-width="1.7"/>
<path d="M185.70,141.26 L198.30,141.26 M185.70,149.77 L198.30,149.77 M185.70,158.29 L198.30,158.29 M185.70,166.55 L198.30,166.55 M185.70,175.06 L198.30,175.06 M185.70,183.33 L198.30,183.33 M185.70,191.84 L198.30,191.84 M185.70,200.10 L198.30,200.10 M185.70,208.62 L198.30,208.62 M185.70,216.88 L198.30,216.88 M185.70,225.39 L198.30,225.39 M185.77,234.00 L198.35,233.31 M187.30,243.68 L199.48,240.44 M190.65,252.58 L201.95,247.00 M195.87,260.88 L205.79,253.11 M202.46,267.75 L210.64,258.17 M210.52,273.32 L216.58,262.27 M219.28,277.04 L223.03,265.01 M228.89,278.98 L230.10,266.44 M238.00,279.20 L238.00,266.60 M246.26,279.20 L246.26,266.60 M254.77,279.20 L254.77,266.60 M263.27,279.20 L263.27,266.60 M271.78,279.20 L271.78,266.60 M280.29,279.20 L280.29,266.60 M288.79,279.20 L288.79,266.60 M297.30,279.20 L297.30,266.60 M305.81,279.20 L305.81,266.60 M314.31,279.20 L314.31,266.60 M322.82,279.20 L322.82,266.60 M331.33,279.20 L331.33,266.60 M339.83,279.20 L339.83,266.60 M348.34,279.20 L348.34,266.60 M356.85,279.20 L356.85,266.60 M365.35,279.20 L365.35,266.60 M373.86,279.20 L373.86,266.60 M382.37,279.20 L382.37,266.60 M390.87,279.20 L390.87,266.60 M399.38,279.20 L399.38,266.60 M407.89,279.20 L407.89,266.60 M416.39,279.20 L416.39,266.60" fill="none" stroke="#000" stroke-width="1.36"/>
<rect x="175.4" y="92.8" width="32.6" height="40.8" rx="2.2" fill="#fff" stroke="#000" stroke-width="1.8"/>
<rect x="177.1" y="77.5" width="16.5" height="7.2" rx="0.6" fill="#fff" stroke="#000" stroke-width="1.4"/>
<path d="M179.6,78 V84 M191.4,78 V84" stroke="#000" stroke-width="1"/>
<path d="M176.3,88.4 C176.6,86.4 178.5,85.5 181,85.5 L190,85.5 C192.5,85.5 194.4,86.4 194.7,88.4 Z" fill="#000" stroke="#000" stroke-width="1" stroke-linejoin="round"/>
<path d="M179.5,88.5 V92.5 M191.7,88.5 V92.5" stroke="#000" stroke-width="1.2"/>
<path d="M354.60,81.90 H359.25 V85.70 H354.60 Z M361.55,81.90 H366.00 V85.70 H361.55 Z" fill="#fff"/>
<path d="M657.30,80.90 H661.95 V84.70 H657.30 Z M664.25,80.90 H668.70 V84.70 H664.25 Z" fill="#fff"/>
<path d="M660.50,241.70 H665.15 V245.50 H660.50 Z M667.45,241.70 H671.90 V245.50 H667.45 Z" fill="#fff"/>
<path d="M660.50,345.50 H665.15 V349.30 H660.50 Z M667.45,345.50 H671.90 V349.30 H667.45 Z" fill="#fff"/>
<path d="M348.37,242.20 H353.02 V246.00 H348.37 Z M355.32,242.20 H359.77 V246.00 H355.32 Z" fill="#fff"/>
<path d="M348.37,346.20 H353.02 V350.00 H348.37 Z M355.32,346.20 H359.77 V350.00 H355.32 Z" fill="#fff"/>
<path d="M12.2,420.3 V431.2 M3.3,431.2 H21 M3.9,439 A8.3,8 0 0 1 20.4,439" stroke="#000" stroke-width="1.7" fill="none"/>
<text transform="translate(30.3 440.2) scale(1 1.04)" xml:space="preserve">stopcontact</text>
<text transform="translate(2.1 463.5) scale(1 1.04)" xml:space="preserve">(</text>
<text transform="translate(16.85 463.5) scale(1 1.04)" xml:space="preserve">)</text>
<text transform="translate(31 465) scale(1 1.04)" xml:space="preserve">Waarde met verlengingsset</text>
</svg></body></html>
